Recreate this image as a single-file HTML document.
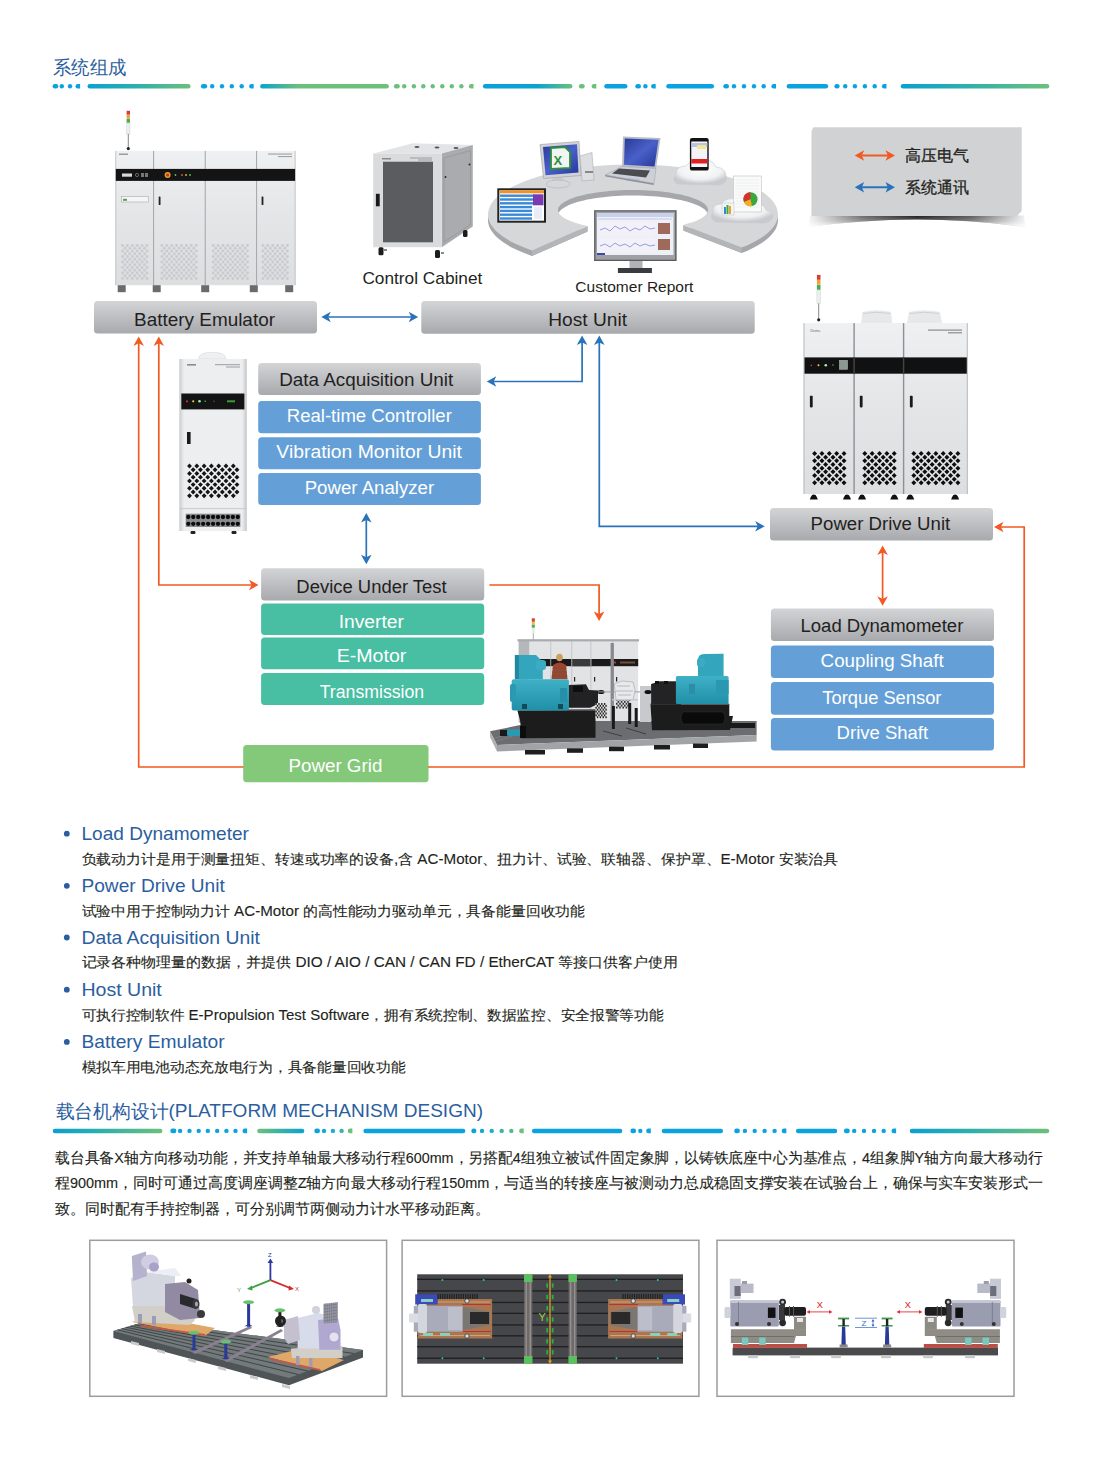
<!DOCTYPE html>
<html><head><meta charset="utf-8"><style>
html,body{margin:0;padding:0;background:#fff;width:1102px;height:1470px;overflow:hidden}
svg{display:block;font-family:"Liberation Sans",sans-serif}
</style></head><body>
<svg width="1102" height="1470" viewBox="0 0 1102 1470">
<defs><linearGradient id="gbox" x1="0" y1="0" x2="0" y2="1"><stop offset="0" stop-color="#d3d4d6"/><stop offset="1" stop-color="#a8a9ad"/></linearGradient><linearGradient id="l1_1" gradientUnits="userSpaceOnUse" x1="87.6" y1="0" x2="190.6" y2="0"><stop offset="0.00" stop-color="#0aa3d0"/><stop offset="0.45" stop-color="#2aaeb0"/><stop offset="1.00" stop-color="#6cc07b"/></linearGradient><linearGradient id="l1_2" gradientUnits="userSpaceOnUse" x1="260.1" y1="0" x2="388.8" y2="0"><stop offset="0.00" stop-color="#0aa3d0"/><stop offset="0.30" stop-color="#6cc07b"/><stop offset="1.00" stop-color="#6cc07b"/></linearGradient><linearGradient id="l1_3" gradientUnits="userSpaceOnUse" x1="483.0" y1="0" x2="572.5" y2="0"><stop offset="0.00" stop-color="#0aa0da"/><stop offset="0.60" stop-color="#0aa3d0"/><stop offset="1.00" stop-color="#6cc07b"/></linearGradient><linearGradient id="l1_4" gradientUnits="userSpaceOnUse" x1="900.7" y1="0" x2="1049.3" y2="0"><stop offset="0.00" stop-color="#0aa0d0"/><stop offset="0.40" stop-color="#2aaeb0"/><stop offset="1.00" stop-color="#6cc07b"/></linearGradient><radialGradient id="lshadow" cx="0.5" cy="0" r="0.6" fx="0.5" fy="0"><stop offset="0" stop-color="#444" stop-opacity="0.9"/><stop offset="1" stop-color="#888" stop-opacity="0"/></radialGradient><filter id="blur2" x="-20%" y="-50%" width="140%" height="200%"><feGaussianBlur stdDeviation="2.5"/></filter><linearGradient id="shh" x1="0" y1="0" x2="1" y2="0"><stop offset="0" stop-color="#f4f4f4"/><stop offset="0.25" stop-color="#6a6a6a"/><stop offset="0.5" stop-color="#1e1e1e"/><stop offset="0.75" stop-color="#5a5a5a"/><stop offset="1" stop-color="#f0f0f0"/></linearGradient><linearGradient id="shv" x1="0" y1="0" x2="0" y2="1"><stop offset="0" stop-color="#fff" stop-opacity="0"/><stop offset="0.5" stop-color="#fff" stop-opacity="0.25"/><stop offset="1" stop-color="#fff" stop-opacity="0.9"/></linearGradient><filter id="blur1" x="-5%" y="-50%" width="110%" height="200%"><feGaussianBlur stdDeviation="0.7"/></filter><linearGradient id="l2_10" gradientUnits="userSpaceOnUse" x1="52.7" y1="0" x2="162.5" y2="0"><stop offset="0.00" stop-color="#0aa0d0"/><stop offset="0.40" stop-color="#2aaeb0"/><stop offset="1.00" stop-color="#6cc07b"/></linearGradient><linearGradient id="l2_11" gradientUnits="userSpaceOnUse" x1="257.1" y1="0" x2="304.4" y2="0"><stop offset="0.00" stop-color="#6cc07b"/><stop offset="0.50" stop-color="#3ab0a8"/><stop offset="1.00" stop-color="#0aa3d0"/></linearGradient><linearGradient id="l2_12" gradientUnits="userSpaceOnUse" x1="909.8" y1="0" x2="1049.3" y2="0"><stop offset="0.00" stop-color="#0aa0d0"/><stop offset="0.40" stop-color="#2aaeb0"/><stop offset="1.00" stop-color="#6cc07b"/></linearGradient></defs>
<text x="53" y="74" font-size="18.5" fill="#2b5e9e" textLength="73.5" lengthAdjust="spacingAndGlyphs">系统组成</text>
<line x1="54.9" y1="86.3" x2="56.0" y2="86.3" stroke="#0aa3df" stroke-width="4.6" stroke-linecap="round"/><circle cx="61.8" cy="86.3" r="2.2" fill="#0aa3df"/><circle cx="70.0" cy="86.3" r="2.2" fill="#0aa3df"/><path d="M77.8 84.0 A2.3 2.3 0 0 0 77.8 88.6 L80.1 88.6 L80.1 84.0 Z" fill="#0aa3df"/><line x1="89.8" y1="86.3" x2="188.3" y2="86.3" stroke="url(#l1_1)" stroke-width="4.5" stroke-linecap="round"/><line x1="203.2" y1="86.3" x2="204.9" y2="86.3" stroke="#0aa3df" stroke-width="4.6" stroke-linecap="round"/><circle cx="212.2" cy="86.3" r="2.2" fill="#0aa3df"/><circle cx="222.0" cy="86.3" r="2.2" fill="#0aa3df"/><circle cx="231.8" cy="86.3" r="2.2" fill="#0aa3df"/><circle cx="241.7" cy="86.3" r="2.2" fill="#0aa3df"/><path d="M251.4 84.0 A2.3 2.3 0 0 0 251.4 88.6 L253.7 88.6 L253.7 84.0 Z" fill="#0aa3df"/><line x1="262.4" y1="86.3" x2="386.6" y2="86.3" stroke="url(#l1_2)" stroke-width="4.5" stroke-linecap="round"/><line x1="396.2" y1="86.3" x2="397.5" y2="86.3" stroke="#6cc07b" stroke-width="4.6" stroke-linecap="round"/><circle cx="404.2" cy="86.3" r="2.2" fill="#6cc07b"/><circle cx="413.9" cy="86.3" r="2.2" fill="#6cc07b"/><circle cx="423.3" cy="86.3" r="2.2" fill="#6cc07b"/><circle cx="432.7" cy="86.3" r="2.2" fill="#6cc07b"/><circle cx="442.3" cy="86.3" r="2.2" fill="#6cc07b"/><circle cx="451.8" cy="86.3" r="2.2" fill="#6cc07b"/><circle cx="461.4" cy="86.3" r="2.2" fill="#6cc07b"/><path d="M471.2 84.0 A2.3 2.3 0 0 0 471.2 88.6 L473.5 88.6 L473.5 84.0 Z" fill="#6cc07b"/><line x1="485.2" y1="86.3" x2="570.2" y2="86.3" stroke="url(#l1_3)" stroke-width="4.5" stroke-linecap="round"/><line x1="581.2" y1="86.3" x2="582.4" y2="86.3" stroke="#6cc07b" stroke-width="4.6" stroke-linecap="round"/><path d="M594.0 84.0 A2.3 2.3 0 0 0 594.0 88.6 L596.3 88.6 L596.3 84.0 Z" fill="#6cc07b"/><line x1="606.5" y1="86.3" x2="625.2" y2="86.3" stroke="#0aa3df" stroke-width="4.5" stroke-linecap="round"/><line x1="637.6" y1="86.3" x2="638.7" y2="86.3" stroke="#0aa3df" stroke-width="4.6" stroke-linecap="round"/><circle cx="645.4" cy="86.3" r="2.2" fill="#0aa3df"/><path d="M653.4 84.0 A2.3 2.3 0 0 0 653.4 88.6 L655.7 88.6 L655.7 84.0 Z" fill="#0aa3df"/><line x1="668.5" y1="86.3" x2="711.8" y2="86.3" stroke="#0aa3df" stroke-width="4.5" stroke-linecap="round"/><line x1="725.6" y1="86.3" x2="726.7" y2="86.3" stroke="#0aa3df" stroke-width="4.6" stroke-linecap="round"/><circle cx="734.0" cy="86.3" r="2.2" fill="#0aa3df"/><circle cx="744.0" cy="86.3" r="2.2" fill="#0aa3df"/><circle cx="754.0" cy="86.3" r="2.2" fill="#0aa3df"/><circle cx="763.7" cy="86.3" r="2.2" fill="#0aa3df"/><path d="M773.7 84.0 A2.3 2.3 0 0 0 773.7 88.6 L776.0 88.6 L776.0 84.0 Z" fill="#0aa3df"/><line x1="788.9" y1="86.3" x2="825.9" y2="86.3" stroke="#0aa3df" stroke-width="4.5" stroke-linecap="round"/><line x1="836.7" y1="86.3" x2="837.3" y2="86.3" stroke="#0aa3df" stroke-width="4.6" stroke-linecap="round"/><circle cx="845.2" cy="86.3" r="2.2" fill="#0aa3df"/><circle cx="854.9" cy="86.3" r="2.2" fill="#0aa3df"/><circle cx="864.9" cy="86.3" r="2.2" fill="#0aa3df"/><circle cx="874.7" cy="86.3" r="2.2" fill="#0aa3df"/><path d="M884.2 84.0 A2.3 2.3 0 0 0 884.2 88.6 L886.5 88.6 L886.5 84.0 Z" fill="#0aa3df"/><line x1="903.0" y1="86.3" x2="1047.0" y2="86.3" stroke="url(#l1_4)" stroke-width="4.5" stroke-linecap="round"/>
<path d="M810 215.5 L1024 215.5 L1025 227 Q916 212 809 227 Z" fill="url(#shh)" filter="url(#blur1)"/>
<path d="M810 215.5 L1024 215.5 L1025 227 Q916 212 809 227 Z" fill="url(#shv)"/>
<path d="M813.5 127.3 L1021.7 127.3 L1021.7 211 L1017 216 L811.5 216 L811.5 131 Z" fill="#d1d2d4"/>
<text x="905" y="161.2" font-size="16" fill="#231f20" stroke="#231f20" stroke-width="0.3" textLength="64" lengthAdjust="spacingAndGlyphs">高压电气</text>
<text x="905" y="192.8" font-size="16" fill="#231f20" stroke="#231f20" stroke-width="0.3" textLength="64" lengthAdjust="spacingAndGlyphs">系统通讯</text>
<defs>
<linearGradient id="cabG" x1="0" y1="0" x2="0" y2="1"><stop offset="0" stop-color="#eef0f1"/><stop offset="0.5" stop-color="#e3e5e7"/><stop offset="1" stop-color="#dcdee0"/></linearGradient>
<linearGradient id="cabG2" x1="0" y1="0" x2="1" y2="0"><stop offset="0" stop-color="#c9cbcd"/><stop offset="0.07" stop-color="#eceef0"/><stop offset="0.93" stop-color="#eceef0"/><stop offset="1" stop-color="#c4c6c8"/></linearGradient>
<linearGradient id="ringTop" x1="0" y1="0" x2="0" y2="1"><stop offset="0" stop-color="#dcdddf"/><stop offset="1" stop-color="#cfd0d2"/></linearGradient>
<linearGradient id="scrBlue" x1="0" y1="0" x2="1" y2="1"><stop offset="0" stop-color="#2a3c9a"/><stop offset="0.5" stop-color="#4a60c8"/><stop offset="1" stop-color="#26369a"/></linearGradient>
<radialGradient id="cloudG" cx="0.5" cy="0.35" r="0.6"><stop offset="0" stop-color="#ffffff"/><stop offset="0.7" stop-color="#f0f1f3"/><stop offset="1" stop-color="#c8cacd"/></radialGradient>
<linearGradient id="teal" x1="0" y1="0" x2="0" y2="1"><stop offset="0" stop-color="#3fb0c6"/><stop offset="1" stop-color="#2090a8"/></linearGradient>
</defs><rect x="126.6" y="110.8" width="3.4" height="3.9" fill="#d63c3c"/><rect x="126.6" y="115.0" width="3.4" height="3.7" fill="#e8a63a"/><rect x="126.6" y="118.9" width="3.4" height="3.9" fill="#4caa55"/><rect x="126.6" y="123.1" width="3.4" height="10.9" fill="#eceef0" stroke="#cfd1d4" stroke-width="0.5"/><line x1="128.3" y1="134.0" x2="128.3" y2="148.6" stroke="#555" stroke-width="0.7"/><circle cx="128.3" cy="148.6" r="1.6" fill="#222"/><rect x="115.3" y="150.9" width="180.3" height="134.3" fill="url(#cabG)"/><rect x="115.3" y="150.9" width="1" height="134.3" fill="#c4c6c8"/><rect x="294.6" y="150.9" width="1" height="134.3" fill="#c4c6c8"/><rect x="153.0" y="150.9" width="1.1" height="134.3" fill="#a9abae"/><rect x="204.7" y="150.9" width="1.1" height="134.3" fill="#a9abae"/><rect x="256.0" y="150.9" width="1.1" height="134.3" fill="#a9abae"/><rect x="115.8" y="168.9" width="179.3" height="12" fill="#141414"/><rect x="122" y="173.5" width="10" height="3.2" fill="#d8d8d8"/><circle cx="137" cy="175" r="1.6" fill="none" stroke="#999" stroke-width="0.6"/><rect x="141" y="173" width="3" height="4" fill="#777"/><rect x="145" y="173" width="3" height="4" fill="#777"/><circle cx="167.6" cy="175" r="3" fill="#e8a020"/><circle cx="167.6" cy="175" r="1.6" fill="#c8302a"/><circle cx="175.5" cy="175" r="0.9" fill="#5ac85a"/><circle cx="182" cy="175" r="0.9" fill="#e85a3a"/><circle cx="186" cy="175" r="0.9" fill="#e8c03a"/><circle cx="190" cy="175" r="0.9" fill="#5ac85a"/><rect x="121.3" y="196.5" width="27.3" height="5.5" fill="#f4f5f6" stroke="#9a9c9e" stroke-width="0.5"/><rect x="123" y="198.8" width="4" height="2" fill="#5a9a5a"/><rect x="158.7" y="196.5" width="1.8" height="8.5" rx="0.6" fill="#222"/><rect x="261.6" y="196.5" width="1.8" height="8.5" rx="0.6" fill="#222"/><g fill="#c9cbce"><circle cx="122.50" cy="245.50" r="1.45"/><circle cx="127.40" cy="245.50" r="1.45"/><circle cx="132.30" cy="245.50" r="1.45"/><circle cx="137.20" cy="245.50" r="1.45"/><circle cx="142.10" cy="245.50" r="1.45"/><circle cx="147.00" cy="245.50" r="1.45"/><circle cx="124.95" cy="248.25" r="1.45"/><circle cx="129.85" cy="248.25" r="1.45"/><circle cx="134.75" cy="248.25" r="1.45"/><circle cx="139.65" cy="248.25" r="1.45"/><circle cx="144.55" cy="248.25" r="1.45"/><circle cx="122.50" cy="251.00" r="1.45"/><circle cx="127.40" cy="251.00" r="1.45"/><circle cx="132.30" cy="251.00" r="1.45"/><circle cx="137.20" cy="251.00" r="1.45"/><circle cx="142.10" cy="251.00" r="1.45"/><circle cx="147.00" cy="251.00" r="1.45"/><circle cx="124.95" cy="253.75" r="1.45"/><circle cx="129.85" cy="253.75" r="1.45"/><circle cx="134.75" cy="253.75" r="1.45"/><circle cx="139.65" cy="253.75" r="1.45"/><circle cx="144.55" cy="253.75" r="1.45"/><circle cx="122.50" cy="256.50" r="1.45"/><circle cx="127.40" cy="256.50" r="1.45"/><circle cx="132.30" cy="256.50" r="1.45"/><circle cx="137.20" cy="256.50" r="1.45"/><circle cx="142.10" cy="256.50" r="1.45"/><circle cx="147.00" cy="256.50" r="1.45"/><circle cx="124.95" cy="259.25" r="1.45"/><circle cx="129.85" cy="259.25" r="1.45"/><circle cx="134.75" cy="259.25" r="1.45"/><circle cx="139.65" cy="259.25" r="1.45"/><circle cx="144.55" cy="259.25" r="1.45"/><circle cx="122.50" cy="262.00" r="1.45"/><circle cx="127.40" cy="262.00" r="1.45"/><circle cx="132.30" cy="262.00" r="1.45"/><circle cx="137.20" cy="262.00" r="1.45"/><circle cx="142.10" cy="262.00" r="1.45"/><circle cx="147.00" cy="262.00" r="1.45"/><circle cx="124.95" cy="264.75" r="1.45"/><circle cx="129.85" cy="264.75" r="1.45"/><circle cx="134.75" cy="264.75" r="1.45"/><circle cx="139.65" cy="264.75" r="1.45"/><circle cx="144.55" cy="264.75" r="1.45"/><circle cx="122.50" cy="267.50" r="1.45"/><circle cx="127.40" cy="267.50" r="1.45"/><circle cx="132.30" cy="267.50" r="1.45"/><circle cx="137.20" cy="267.50" r="1.45"/><circle cx="142.10" cy="267.50" r="1.45"/><circle cx="147.00" cy="267.50" r="1.45"/><circle cx="124.95" cy="270.25" r="1.45"/><circle cx="129.85" cy="270.25" r="1.45"/><circle cx="134.75" cy="270.25" r="1.45"/><circle cx="139.65" cy="270.25" r="1.45"/><circle cx="144.55" cy="270.25" r="1.45"/><circle cx="122.50" cy="273.00" r="1.45"/><circle cx="127.40" cy="273.00" r="1.45"/><circle cx="132.30" cy="273.00" r="1.45"/><circle cx="137.20" cy="273.00" r="1.45"/><circle cx="142.10" cy="273.00" r="1.45"/><circle cx="147.00" cy="273.00" r="1.45"/><circle cx="124.95" cy="275.75" r="1.45"/><circle cx="129.85" cy="275.75" r="1.45"/><circle cx="134.75" cy="275.75" r="1.45"/><circle cx="139.65" cy="275.75" r="1.45"/><circle cx="144.55" cy="275.75" r="1.45"/><circle cx="122.50" cy="278.50" r="1.45"/><circle cx="127.40" cy="278.50" r="1.45"/><circle cx="132.30" cy="278.50" r="1.45"/><circle cx="137.20" cy="278.50" r="1.45"/><circle cx="142.10" cy="278.50" r="1.45"/><circle cx="147.00" cy="278.50" r="1.45"/></g><g fill="#c9cbce"><circle cx="161.90" cy="245.50" r="1.45"/><circle cx="166.80" cy="245.50" r="1.45"/><circle cx="171.70" cy="245.50" r="1.45"/><circle cx="176.60" cy="245.50" r="1.45"/><circle cx="181.50" cy="245.50" r="1.45"/><circle cx="186.40" cy="245.50" r="1.45"/><circle cx="191.30" cy="245.50" r="1.45"/><circle cx="196.20" cy="245.50" r="1.45"/><circle cx="164.35" cy="248.25" r="1.45"/><circle cx="169.25" cy="248.25" r="1.45"/><circle cx="174.15" cy="248.25" r="1.45"/><circle cx="179.05" cy="248.25" r="1.45"/><circle cx="183.95" cy="248.25" r="1.45"/><circle cx="188.85" cy="248.25" r="1.45"/><circle cx="193.75" cy="248.25" r="1.45"/><circle cx="161.90" cy="251.00" r="1.45"/><circle cx="166.80" cy="251.00" r="1.45"/><circle cx="171.70" cy="251.00" r="1.45"/><circle cx="176.60" cy="251.00" r="1.45"/><circle cx="181.50" cy="251.00" r="1.45"/><circle cx="186.40" cy="251.00" r="1.45"/><circle cx="191.30" cy="251.00" r="1.45"/><circle cx="196.20" cy="251.00" r="1.45"/><circle cx="164.35" cy="253.75" r="1.45"/><circle cx="169.25" cy="253.75" r="1.45"/><circle cx="174.15" cy="253.75" r="1.45"/><circle cx="179.05" cy="253.75" r="1.45"/><circle cx="183.95" cy="253.75" r="1.45"/><circle cx="188.85" cy="253.75" r="1.45"/><circle cx="193.75" cy="253.75" r="1.45"/><circle cx="161.90" cy="256.50" r="1.45"/><circle cx="166.80" cy="256.50" r="1.45"/><circle cx="171.70" cy="256.50" r="1.45"/><circle cx="176.60" cy="256.50" r="1.45"/><circle cx="181.50" cy="256.50" r="1.45"/><circle cx="186.40" cy="256.50" r="1.45"/><circle cx="191.30" cy="256.50" r="1.45"/><circle cx="196.20" cy="256.50" r="1.45"/><circle cx="164.35" cy="259.25" r="1.45"/><circle cx="169.25" cy="259.25" r="1.45"/><circle cx="174.15" cy="259.25" r="1.45"/><circle cx="179.05" cy="259.25" r="1.45"/><circle cx="183.95" cy="259.25" r="1.45"/><circle cx="188.85" cy="259.25" r="1.45"/><circle cx="193.75" cy="259.25" r="1.45"/><circle cx="161.90" cy="262.00" r="1.45"/><circle cx="166.80" cy="262.00" r="1.45"/><circle cx="171.70" cy="262.00" r="1.45"/><circle cx="176.60" cy="262.00" r="1.45"/><circle cx="181.50" cy="262.00" r="1.45"/><circle cx="186.40" cy="262.00" r="1.45"/><circle cx="191.30" cy="262.00" r="1.45"/><circle cx="196.20" cy="262.00" r="1.45"/><circle cx="164.35" cy="264.75" r="1.45"/><circle cx="169.25" cy="264.75" r="1.45"/><circle cx="174.15" cy="264.75" r="1.45"/><circle cx="179.05" cy="264.75" r="1.45"/><circle cx="183.95" cy="264.75" r="1.45"/><circle cx="188.85" cy="264.75" r="1.45"/><circle cx="193.75" cy="264.75" r="1.45"/><circle cx="161.90" cy="267.50" r="1.45"/><circle cx="166.80" cy="267.50" r="1.45"/><circle cx="171.70" cy="267.50" r="1.45"/><circle cx="176.60" cy="267.50" r="1.45"/><circle cx="181.50" cy="267.50" r="1.45"/><circle cx="186.40" cy="267.50" r="1.45"/><circle cx="191.30" cy="267.50" r="1.45"/><circle cx="196.20" cy="267.50" r="1.45"/><circle cx="164.35" cy="270.25" r="1.45"/><circle cx="169.25" cy="270.25" r="1.45"/><circle cx="174.15" cy="270.25" r="1.45"/><circle cx="179.05" cy="270.25" r="1.45"/><circle cx="183.95" cy="270.25" r="1.45"/><circle cx="188.85" cy="270.25" r="1.45"/><circle cx="193.75" cy="270.25" r="1.45"/><circle cx="161.90" cy="273.00" r="1.45"/><circle cx="166.80" cy="273.00" r="1.45"/><circle cx="171.70" cy="273.00" r="1.45"/><circle cx="176.60" cy="273.00" r="1.45"/><circle cx="181.50" cy="273.00" r="1.45"/><circle cx="186.40" cy="273.00" r="1.45"/><circle cx="191.30" cy="273.00" r="1.45"/><circle cx="196.20" cy="273.00" r="1.45"/><circle cx="164.35" cy="275.75" r="1.45"/><circle cx="169.25" cy="275.75" r="1.45"/><circle cx="174.15" cy="275.75" r="1.45"/><circle cx="179.05" cy="275.75" r="1.45"/><circle cx="183.95" cy="275.75" r="1.45"/><circle cx="188.85" cy="275.75" r="1.45"/><circle cx="193.75" cy="275.75" r="1.45"/><circle cx="161.90" cy="278.50" r="1.45"/><circle cx="166.80" cy="278.50" r="1.45"/><circle cx="171.70" cy="278.50" r="1.45"/><circle cx="176.60" cy="278.50" r="1.45"/><circle cx="181.50" cy="278.50" r="1.45"/><circle cx="186.40" cy="278.50" r="1.45"/><circle cx="191.30" cy="278.50" r="1.45"/><circle cx="196.20" cy="278.50" r="1.45"/></g><g fill="#c9cbce"><circle cx="213.20" cy="245.50" r="1.45"/><circle cx="218.10" cy="245.50" r="1.45"/><circle cx="223.00" cy="245.50" r="1.45"/><circle cx="227.90" cy="245.50" r="1.45"/><circle cx="232.80" cy="245.50" r="1.45"/><circle cx="237.70" cy="245.50" r="1.45"/><circle cx="242.60" cy="245.50" r="1.45"/><circle cx="247.50" cy="245.50" r="1.45"/><circle cx="215.65" cy="248.25" r="1.45"/><circle cx="220.55" cy="248.25" r="1.45"/><circle cx="225.45" cy="248.25" r="1.45"/><circle cx="230.35" cy="248.25" r="1.45"/><circle cx="235.25" cy="248.25" r="1.45"/><circle cx="240.15" cy="248.25" r="1.45"/><circle cx="245.05" cy="248.25" r="1.45"/><circle cx="213.20" cy="251.00" r="1.45"/><circle cx="218.10" cy="251.00" r="1.45"/><circle cx="223.00" cy="251.00" r="1.45"/><circle cx="227.90" cy="251.00" r="1.45"/><circle cx="232.80" cy="251.00" r="1.45"/><circle cx="237.70" cy="251.00" r="1.45"/><circle cx="242.60" cy="251.00" r="1.45"/><circle cx="247.50" cy="251.00" r="1.45"/><circle cx="215.65" cy="253.75" r="1.45"/><circle cx="220.55" cy="253.75" r="1.45"/><circle cx="225.45" cy="253.75" r="1.45"/><circle cx="230.35" cy="253.75" r="1.45"/><circle cx="235.25" cy="253.75" r="1.45"/><circle cx="240.15" cy="253.75" r="1.45"/><circle cx="245.05" cy="253.75" r="1.45"/><circle cx="213.20" cy="256.50" r="1.45"/><circle cx="218.10" cy="256.50" r="1.45"/><circle cx="223.00" cy="256.50" r="1.45"/><circle cx="227.90" cy="256.50" r="1.45"/><circle cx="232.80" cy="256.50" r="1.45"/><circle cx="237.70" cy="256.50" r="1.45"/><circle cx="242.60" cy="256.50" r="1.45"/><circle cx="247.50" cy="256.50" r="1.45"/><circle cx="215.65" cy="259.25" r="1.45"/><circle cx="220.55" cy="259.25" r="1.45"/><circle cx="225.45" cy="259.25" r="1.45"/><circle cx="230.35" cy="259.25" r="1.45"/><circle cx="235.25" cy="259.25" r="1.45"/><circle cx="240.15" cy="259.25" r="1.45"/><circle cx="245.05" cy="259.25" r="1.45"/><circle cx="213.20" cy="262.00" r="1.45"/><circle cx="218.10" cy="262.00" r="1.45"/><circle cx="223.00" cy="262.00" r="1.45"/><circle cx="227.90" cy="262.00" r="1.45"/><circle cx="232.80" cy="262.00" r="1.45"/><circle cx="237.70" cy="262.00" r="1.45"/><circle cx="242.60" cy="262.00" r="1.45"/><circle cx="247.50" cy="262.00" r="1.45"/><circle cx="215.65" cy="264.75" r="1.45"/><circle cx="220.55" cy="264.75" r="1.45"/><circle cx="225.45" cy="264.75" r="1.45"/><circle cx="230.35" cy="264.75" r="1.45"/><circle cx="235.25" cy="264.75" r="1.45"/><circle cx="240.15" cy="264.75" r="1.45"/><circle cx="245.05" cy="264.75" r="1.45"/><circle cx="213.20" cy="267.50" r="1.45"/><circle cx="218.10" cy="267.50" r="1.45"/><circle cx="223.00" cy="267.50" r="1.45"/><circle cx="227.90" cy="267.50" r="1.45"/><circle cx="232.80" cy="267.50" r="1.45"/><circle cx="237.70" cy="267.50" r="1.45"/><circle cx="242.60" cy="267.50" r="1.45"/><circle cx="247.50" cy="267.50" r="1.45"/><circle cx="215.65" cy="270.25" r="1.45"/><circle cx="220.55" cy="270.25" r="1.45"/><circle cx="225.45" cy="270.25" r="1.45"/><circle cx="230.35" cy="270.25" r="1.45"/><circle cx="235.25" cy="270.25" r="1.45"/><circle cx="240.15" cy="270.25" r="1.45"/><circle cx="245.05" cy="270.25" r="1.45"/><circle cx="213.20" cy="273.00" r="1.45"/><circle cx="218.10" cy="273.00" r="1.45"/><circle cx="223.00" cy="273.00" r="1.45"/><circle cx="227.90" cy="273.00" r="1.45"/><circle cx="232.80" cy="273.00" r="1.45"/><circle cx="237.70" cy="273.00" r="1.45"/><circle cx="242.60" cy="273.00" r="1.45"/><circle cx="247.50" cy="273.00" r="1.45"/><circle cx="215.65" cy="275.75" r="1.45"/><circle cx="220.55" cy="275.75" r="1.45"/><circle cx="225.45" cy="275.75" r="1.45"/><circle cx="230.35" cy="275.75" r="1.45"/><circle cx="235.25" cy="275.75" r="1.45"/><circle cx="240.15" cy="275.75" r="1.45"/><circle cx="245.05" cy="275.75" r="1.45"/><circle cx="213.20" cy="278.50" r="1.45"/><circle cx="218.10" cy="278.50" r="1.45"/><circle cx="223.00" cy="278.50" r="1.45"/><circle cx="227.90" cy="278.50" r="1.45"/><circle cx="232.80" cy="278.50" r="1.45"/><circle cx="237.70" cy="278.50" r="1.45"/><circle cx="242.60" cy="278.50" r="1.45"/><circle cx="247.50" cy="278.50" r="1.45"/></g><g fill="#c9cbce"><circle cx="262.90" cy="245.50" r="1.45"/><circle cx="267.80" cy="245.50" r="1.45"/><circle cx="272.70" cy="245.50" r="1.45"/><circle cx="277.60" cy="245.50" r="1.45"/><circle cx="282.50" cy="245.50" r="1.45"/><circle cx="287.40" cy="245.50" r="1.45"/><circle cx="265.35" cy="248.25" r="1.45"/><circle cx="270.25" cy="248.25" r="1.45"/><circle cx="275.15" cy="248.25" r="1.45"/><circle cx="280.05" cy="248.25" r="1.45"/><circle cx="284.95" cy="248.25" r="1.45"/><circle cx="262.90" cy="251.00" r="1.45"/><circle cx="267.80" cy="251.00" r="1.45"/><circle cx="272.70" cy="251.00" r="1.45"/><circle cx="277.60" cy="251.00" r="1.45"/><circle cx="282.50" cy="251.00" r="1.45"/><circle cx="287.40" cy="251.00" r="1.45"/><circle cx="265.35" cy="253.75" r="1.45"/><circle cx="270.25" cy="253.75" r="1.45"/><circle cx="275.15" cy="253.75" r="1.45"/><circle cx="280.05" cy="253.75" r="1.45"/><circle cx="284.95" cy="253.75" r="1.45"/><circle cx="262.90" cy="256.50" r="1.45"/><circle cx="267.80" cy="256.50" r="1.45"/><circle cx="272.70" cy="256.50" r="1.45"/><circle cx="277.60" cy="256.50" r="1.45"/><circle cx="282.50" cy="256.50" r="1.45"/><circle cx="287.40" cy="256.50" r="1.45"/><circle cx="265.35" cy="259.25" r="1.45"/><circle cx="270.25" cy="259.25" r="1.45"/><circle cx="275.15" cy="259.25" r="1.45"/><circle cx="280.05" cy="259.25" r="1.45"/><circle cx="284.95" cy="259.25" r="1.45"/><circle cx="262.90" cy="262.00" r="1.45"/><circle cx="267.80" cy="262.00" r="1.45"/><circle cx="272.70" cy="262.00" r="1.45"/><circle cx="277.60" cy="262.00" r="1.45"/><circle cx="282.50" cy="262.00" r="1.45"/><circle cx="287.40" cy="262.00" r="1.45"/><circle cx="265.35" cy="264.75" r="1.45"/><circle cx="270.25" cy="264.75" r="1.45"/><circle cx="275.15" cy="264.75" r="1.45"/><circle cx="280.05" cy="264.75" r="1.45"/><circle cx="284.95" cy="264.75" r="1.45"/><circle cx="262.90" cy="267.50" r="1.45"/><circle cx="267.80" cy="267.50" r="1.45"/><circle cx="272.70" cy="267.50" r="1.45"/><circle cx="277.60" cy="267.50" r="1.45"/><circle cx="282.50" cy="267.50" r="1.45"/><circle cx="287.40" cy="267.50" r="1.45"/><circle cx="265.35" cy="270.25" r="1.45"/><circle cx="270.25" cy="270.25" r="1.45"/><circle cx="275.15" cy="270.25" r="1.45"/><circle cx="280.05" cy="270.25" r="1.45"/><circle cx="284.95" cy="270.25" r="1.45"/><circle cx="262.90" cy="273.00" r="1.45"/><circle cx="267.80" cy="273.00" r="1.45"/><circle cx="272.70" cy="273.00" r="1.45"/><circle cx="277.60" cy="273.00" r="1.45"/><circle cx="282.50" cy="273.00" r="1.45"/><circle cx="287.40" cy="273.00" r="1.45"/><circle cx="265.35" cy="275.75" r="1.45"/><circle cx="270.25" cy="275.75" r="1.45"/><circle cx="275.15" cy="275.75" r="1.45"/><circle cx="280.05" cy="275.75" r="1.45"/><circle cx="284.95" cy="275.75" r="1.45"/><circle cx="262.90" cy="278.50" r="1.45"/><circle cx="267.80" cy="278.50" r="1.45"/><circle cx="272.70" cy="278.50" r="1.45"/><circle cx="277.60" cy="278.50" r="1.45"/><circle cx="282.50" cy="278.50" r="1.45"/><circle cx="287.40" cy="278.50" r="1.45"/></g><rect x="117.7" y="285.2" width="8" height="7" fill="#6a6b6d"/><rect x="152.7" y="285.2" width="8" height="7" fill="#6a6b6d"/><rect x="201.2" y="285.2" width="8" height="7" fill="#6a6b6d"/><rect x="249.8" y="285.2" width="8" height="7" fill="#6a6b6d"/><rect x="285.2" y="285.2" width="8" height="7" fill="#6a6b6d"/><path d="M373.2 153.5 L412.9 143.2 L472.8 145 L441.8 153.5 Z" fill="#e3e4e6"/><path d="M441.8 153.5 L472.8 145 L472.8 226.5 L441.8 247.2 Z" fill="#a9abae"/><path d="M444 158 L470.5 150.5 L470.5 224.5 L444 242 Z" fill="none" stroke="#96989b" stroke-width="0.8"/><rect x="373.2" y="153.5" width="68.6" height="93.7" fill="#dadbdd"/><rect x="383" y="161.7" width="50" height="80.6" fill="#5b5c5f"/><rect x="375.9" y="193.8" width="3.8" height="12.5" fill="#1a1a1a"/><circle cx="445.5" cy="177" r="0.9" fill="#222"/><circle cx="469.5" cy="164.5" r="0.9" fill="#222"/><rect x="378.5" y="247.2" width="5" height="8" rx="1.5" fill="#1c1c1c"/><rect x="435" y="250" width="5" height="8" rx="1.5" fill="#1c1c1c"/><rect x="463" y="230" width="4.5" height="7" rx="1.5" fill="#1c1c1c"/><rect x="384" y="249" width="3" height="2" fill="#888"/><rect x="441" y="252" width="3" height="2" fill="#888"/><path d="M198.6 359 Q198.6 352.3 212.2 352.3 Q225.8 352.3 225.8 359 Z" fill="#eef0f2" stroke="#d6d8da" stroke-width="0.6"/><rect x="179.3" y="359" width="67.5" height="172" fill="url(#cabG2)"/><rect x="181.3" y="393.5" width="63.1" height="15.9" fill="#141414"/><circle cx="187" cy="401.3" r="1.1" fill="#c83a2a"/><circle cx="193.2" cy="401.3" r="1.1" fill="#e0d040"/><circle cx="199.5" cy="401.3" r="1.3" fill="#9af09a"/><rect x="204.5" y="400.5" width="1.5" height="1.5" fill="#3a9a3a"/><rect x="227" y="400.3" width="8" height="2" fill="#3a9a3a"/><circle cx="214" cy="401.3" r="0.8" fill="#555"/><rect x="187" y="432" width="3.6" height="12" fill="#1a1a1a"/><path d="M189.50 463.55l2.45 2.45l-2.45 2.45l-2.45 -2.45zM196.80 463.55l2.45 2.45l-2.45 2.45l-2.45 -2.45zM204.10 463.55l2.45 2.45l-2.45 2.45l-2.45 -2.45zM211.40 463.55l2.45 2.45l-2.45 2.45l-2.45 -2.45zM218.70 463.55l2.45 2.45l-2.45 2.45l-2.45 -2.45zM226.00 463.55l2.45 2.45l-2.45 2.45l-2.45 -2.45zM233.30 463.55l2.45 2.45l-2.45 2.45l-2.45 -2.45zM193.15 467.27l2.45 2.45l-2.45 2.45l-2.45 -2.45zM200.45 467.27l2.45 2.45l-2.45 2.45l-2.45 -2.45zM207.75 467.27l2.45 2.45l-2.45 2.45l-2.45 -2.45zM215.05 467.27l2.45 2.45l-2.45 2.45l-2.45 -2.45zM222.35 467.27l2.45 2.45l-2.45 2.45l-2.45 -2.45zM229.65 467.27l2.45 2.45l-2.45 2.45l-2.45 -2.45zM236.95 467.27l2.45 2.45l-2.45 2.45l-2.45 -2.45zM189.50 470.99l2.45 2.45l-2.45 2.45l-2.45 -2.45zM196.80 470.99l2.45 2.45l-2.45 2.45l-2.45 -2.45zM204.10 470.99l2.45 2.45l-2.45 2.45l-2.45 -2.45zM211.40 470.99l2.45 2.45l-2.45 2.45l-2.45 -2.45zM218.70 470.99l2.45 2.45l-2.45 2.45l-2.45 -2.45zM226.00 470.99l2.45 2.45l-2.45 2.45l-2.45 -2.45zM233.30 470.99l2.45 2.45l-2.45 2.45l-2.45 -2.45zM193.15 474.71l2.45 2.45l-2.45 2.45l-2.45 -2.45zM200.45 474.71l2.45 2.45l-2.45 2.45l-2.45 -2.45zM207.75 474.71l2.45 2.45l-2.45 2.45l-2.45 -2.45zM215.05 474.71l2.45 2.45l-2.45 2.45l-2.45 -2.45zM222.35 474.71l2.45 2.45l-2.45 2.45l-2.45 -2.45zM229.65 474.71l2.45 2.45l-2.45 2.45l-2.45 -2.45zM236.95 474.71l2.45 2.45l-2.45 2.45l-2.45 -2.45zM189.50 478.43l2.45 2.45l-2.45 2.45l-2.45 -2.45zM196.80 478.43l2.45 2.45l-2.45 2.45l-2.45 -2.45zM204.10 478.43l2.45 2.45l-2.45 2.45l-2.45 -2.45zM211.40 478.43l2.45 2.45l-2.45 2.45l-2.45 -2.45zM218.70 478.43l2.45 2.45l-2.45 2.45l-2.45 -2.45zM226.00 478.43l2.45 2.45l-2.45 2.45l-2.45 -2.45zM233.30 478.43l2.45 2.45l-2.45 2.45l-2.45 -2.45zM193.15 482.15l2.45 2.45l-2.45 2.45l-2.45 -2.45zM200.45 482.15l2.45 2.45l-2.45 2.45l-2.45 -2.45zM207.75 482.15l2.45 2.45l-2.45 2.45l-2.45 -2.45zM215.05 482.15l2.45 2.45l-2.45 2.45l-2.45 -2.45zM222.35 482.15l2.45 2.45l-2.45 2.45l-2.45 -2.45zM229.65 482.15l2.45 2.45l-2.45 2.45l-2.45 -2.45zM236.95 482.15l2.45 2.45l-2.45 2.45l-2.45 -2.45zM189.50 485.87l2.45 2.45l-2.45 2.45l-2.45 -2.45zM196.80 485.87l2.45 2.45l-2.45 2.45l-2.45 -2.45zM204.10 485.87l2.45 2.45l-2.45 2.45l-2.45 -2.45zM211.40 485.87l2.45 2.45l-2.45 2.45l-2.45 -2.45zM218.70 485.87l2.45 2.45l-2.45 2.45l-2.45 -2.45zM226.00 485.87l2.45 2.45l-2.45 2.45l-2.45 -2.45zM233.30 485.87l2.45 2.45l-2.45 2.45l-2.45 -2.45zM193.15 489.59l2.45 2.45l-2.45 2.45l-2.45 -2.45zM200.45 489.59l2.45 2.45l-2.45 2.45l-2.45 -2.45zM207.75 489.59l2.45 2.45l-2.45 2.45l-2.45 -2.45zM215.05 489.59l2.45 2.45l-2.45 2.45l-2.45 -2.45zM222.35 489.59l2.45 2.45l-2.45 2.45l-2.45 -2.45zM229.65 489.59l2.45 2.45l-2.45 2.45l-2.45 -2.45zM236.95 489.59l2.45 2.45l-2.45 2.45l-2.45 -2.45zM189.50 493.31l2.45 2.45l-2.45 2.45l-2.45 -2.45zM196.80 493.31l2.45 2.45l-2.45 2.45l-2.45 -2.45zM204.10 493.31l2.45 2.45l-2.45 2.45l-2.45 -2.45zM211.40 493.31l2.45 2.45l-2.45 2.45l-2.45 -2.45zM218.70 493.31l2.45 2.45l-2.45 2.45l-2.45 -2.45zM226.00 493.31l2.45 2.45l-2.45 2.45l-2.45 -2.45zM233.30 493.31l2.45 2.45l-2.45 2.45l-2.45 -2.45z" fill="#151515"/><rect x="179.8" y="508.3" width="66.5" height="0.8" fill="#c0c2c4"/><rect x="185.7" y="513.7" width="54.7" height="13.3" fill="#8a8b8d"/><g fill="#0c0c0c"><circle cx="188.30" cy="517.00" r="2.15"/><circle cx="193.25" cy="517.00" r="2.15"/><circle cx="198.20" cy="517.00" r="2.15"/><circle cx="203.15" cy="517.00" r="2.15"/><circle cx="208.10" cy="517.00" r="2.15"/><circle cx="213.05" cy="517.00" r="2.15"/><circle cx="218.00" cy="517.00" r="2.15"/><circle cx="222.95" cy="517.00" r="2.15"/><circle cx="227.90" cy="517.00" r="2.15"/><circle cx="232.85" cy="517.00" r="2.15"/><circle cx="237.80" cy="517.00" r="2.15"/><circle cx="188.30" cy="523.80" r="2.15"/><circle cx="193.25" cy="523.80" r="2.15"/><circle cx="198.20" cy="523.80" r="2.15"/><circle cx="203.15" cy="523.80" r="2.15"/><circle cx="208.10" cy="523.80" r="2.15"/><circle cx="213.05" cy="523.80" r="2.15"/><circle cx="218.00" cy="523.80" r="2.15"/><circle cx="222.95" cy="523.80" r="2.15"/><circle cx="227.90" cy="523.80" r="2.15"/><circle cx="232.85" cy="523.80" r="2.15"/><circle cx="237.80" cy="523.80" r="2.15"/></g><rect x="190.5" y="531" width="5" height="3" rx="1.2" fill="#222"/><rect x="231.5" y="531" width="5" height="3" rx="1.2" fill="#222"/><rect x="816.9" y="274.9" width="3.6" height="4.9" fill="#d63c3c"/><rect x="816.9" y="280.0" width="3.6" height="4.6" fill="#e8a63a"/><rect x="816.9" y="284.9" width="3.6" height="4.9" fill="#4caa55"/><rect x="816.9" y="290.1" width="3.6" height="13.4" fill="#eceef0" stroke="#cfd1d4" stroke-width="0.5"/><line x1="818.7" y1="303.5" x2="818.7" y2="319.8" stroke="#555" stroke-width="0.7"/><circle cx="818.7" cy="319.8" r="1.6" fill="#222"/><path d="M861.2 323 L862.5 312 Q876.7 308.5 891 312 L892.2 323 Z" fill="#e6e8ea"/><path d="M906.9 323 L909 312 Q924.5 308.5 940 312 L942 323 Z" fill="#e6e8ea"/><path d="M863 313.5 Q876.7 311 890 313.5" fill="none" stroke="#c8cacc" stroke-width="0.8"/><path d="M909.5 313.5 Q924.5 311 939 313.5" fill="none" stroke="#c8cacc" stroke-width="0.8"/><rect x="803.5" y="323.1" width="164.3" height="170.9" fill="url(#cabG)"/><rect x="803.5" y="323.1" width="1" height="170.9" fill="#b9bbbd"/><rect x="966.8" y="323.1" width="1" height="170.9" fill="#b9bbbd"/><rect x="853.4" y="323.1" width="1.4" height="170.9" fill="#8e9093"/><rect x="902.9" y="323.1" width="1.4" height="170.9" fill="#8e9093"/><rect x="804.5" y="357.4" width="162.3" height="16.3" fill="#111"/><rect x="853.4" y="357.4" width="1.4" height="16.3" fill="#444"/><rect x="902.9" y="357.4" width="1.4" height="16.3" fill="#444"/><circle cx="811.3" cy="365.3" r="0.9" fill="#c03a2a"/><circle cx="818.5" cy="365.3" r="1" fill="#e0d040"/><circle cx="825.8" cy="365.3" r="1.3" fill="#aaf5aa"/><circle cx="833" cy="365" r="0.8" fill="#4ab04a"/><rect x="839.4" y="360.3" width="8.2" height="9" fill="#8a9a90" stroke="#bbb" stroke-width="0.5"/><text x="810" y="331.8" font-size="2.8" fill="#666">Chroma</text><rect x="809.9" y="395.8" width="2.8" height="11.6" rx="0.8" fill="#1a1a1a"/><rect x="859.8" y="395.8" width="2.8" height="11.6" rx="0.8" fill="#1a1a1a"/><rect x="909.9" y="395.8" width="2.8" height="11.6" rx="0.8" fill="#1a1a1a"/><path d="M814.60 451.00l2.50 2.50l-2.50 2.50l-2.50 -2.50zM821.95 451.00l2.50 2.50l-2.50 2.50l-2.50 -2.50zM829.30 451.00l2.50 2.50l-2.50 2.50l-2.50 -2.50zM836.65 451.00l2.50 2.50l-2.50 2.50l-2.50 -2.50zM844.00 451.00l2.50 2.50l-2.50 2.50l-2.50 -2.50zM818.27 454.67l2.50 2.50l-2.50 2.50l-2.50 -2.50zM825.62 454.67l2.50 2.50l-2.50 2.50l-2.50 -2.50zM832.98 454.67l2.50 2.50l-2.50 2.50l-2.50 -2.50zM840.33 454.67l2.50 2.50l-2.50 2.50l-2.50 -2.50zM814.60 458.34l2.50 2.50l-2.50 2.50l-2.50 -2.50zM821.95 458.34l2.50 2.50l-2.50 2.50l-2.50 -2.50zM829.30 458.34l2.50 2.50l-2.50 2.50l-2.50 -2.50zM836.65 458.34l2.50 2.50l-2.50 2.50l-2.50 -2.50zM844.00 458.34l2.50 2.50l-2.50 2.50l-2.50 -2.50zM818.27 462.01l2.50 2.50l-2.50 2.50l-2.50 -2.50zM825.62 462.01l2.50 2.50l-2.50 2.50l-2.50 -2.50zM832.98 462.01l2.50 2.50l-2.50 2.50l-2.50 -2.50zM840.33 462.01l2.50 2.50l-2.50 2.50l-2.50 -2.50zM814.60 465.68l2.50 2.50l-2.50 2.50l-2.50 -2.50zM821.95 465.68l2.50 2.50l-2.50 2.50l-2.50 -2.50zM829.30 465.68l2.50 2.50l-2.50 2.50l-2.50 -2.50zM836.65 465.68l2.50 2.50l-2.50 2.50l-2.50 -2.50zM844.00 465.68l2.50 2.50l-2.50 2.50l-2.50 -2.50zM818.27 469.35l2.50 2.50l-2.50 2.50l-2.50 -2.50zM825.62 469.35l2.50 2.50l-2.50 2.50l-2.50 -2.50zM832.98 469.35l2.50 2.50l-2.50 2.50l-2.50 -2.50zM840.33 469.35l2.50 2.50l-2.50 2.50l-2.50 -2.50zM814.60 473.02l2.50 2.50l-2.50 2.50l-2.50 -2.50zM821.95 473.02l2.50 2.50l-2.50 2.50l-2.50 -2.50zM829.30 473.02l2.50 2.50l-2.50 2.50l-2.50 -2.50zM836.65 473.02l2.50 2.50l-2.50 2.50l-2.50 -2.50zM844.00 473.02l2.50 2.50l-2.50 2.50l-2.50 -2.50zM818.27 476.69l2.50 2.50l-2.50 2.50l-2.50 -2.50zM825.62 476.69l2.50 2.50l-2.50 2.50l-2.50 -2.50zM832.98 476.69l2.50 2.50l-2.50 2.50l-2.50 -2.50zM840.33 476.69l2.50 2.50l-2.50 2.50l-2.50 -2.50zM814.60 480.36l2.50 2.50l-2.50 2.50l-2.50 -2.50zM821.95 480.36l2.50 2.50l-2.50 2.50l-2.50 -2.50zM829.30 480.36l2.50 2.50l-2.50 2.50l-2.50 -2.50zM836.65 480.36l2.50 2.50l-2.50 2.50l-2.50 -2.50zM844.00 480.36l2.50 2.50l-2.50 2.50l-2.50 -2.50z" fill="#0e0e0e"/><path d="M864.80 451.00l2.50 2.50l-2.50 2.50l-2.50 -2.50zM872.15 451.00l2.50 2.50l-2.50 2.50l-2.50 -2.50zM879.50 451.00l2.50 2.50l-2.50 2.50l-2.50 -2.50zM886.85 451.00l2.50 2.50l-2.50 2.50l-2.50 -2.50zM894.20 451.00l2.50 2.50l-2.50 2.50l-2.50 -2.50zM868.47 454.67l2.50 2.50l-2.50 2.50l-2.50 -2.50zM875.82 454.67l2.50 2.50l-2.50 2.50l-2.50 -2.50zM883.17 454.67l2.50 2.50l-2.50 2.50l-2.50 -2.50zM890.52 454.67l2.50 2.50l-2.50 2.50l-2.50 -2.50zM864.80 458.34l2.50 2.50l-2.50 2.50l-2.50 -2.50zM872.15 458.34l2.50 2.50l-2.50 2.50l-2.50 -2.50zM879.50 458.34l2.50 2.50l-2.50 2.50l-2.50 -2.50zM886.85 458.34l2.50 2.50l-2.50 2.50l-2.50 -2.50zM894.20 458.34l2.50 2.50l-2.50 2.50l-2.50 -2.50zM868.47 462.01l2.50 2.50l-2.50 2.50l-2.50 -2.50zM875.82 462.01l2.50 2.50l-2.50 2.50l-2.50 -2.50zM883.17 462.01l2.50 2.50l-2.50 2.50l-2.50 -2.50zM890.52 462.01l2.50 2.50l-2.50 2.50l-2.50 -2.50zM864.80 465.68l2.50 2.50l-2.50 2.50l-2.50 -2.50zM872.15 465.68l2.50 2.50l-2.50 2.50l-2.50 -2.50zM879.50 465.68l2.50 2.50l-2.50 2.50l-2.50 -2.50zM886.85 465.68l2.50 2.50l-2.50 2.50l-2.50 -2.50zM894.20 465.68l2.50 2.50l-2.50 2.50l-2.50 -2.50zM868.47 469.35l2.50 2.50l-2.50 2.50l-2.50 -2.50zM875.82 469.35l2.50 2.50l-2.50 2.50l-2.50 -2.50zM883.17 469.35l2.50 2.50l-2.50 2.50l-2.50 -2.50zM890.52 469.35l2.50 2.50l-2.50 2.50l-2.50 -2.50zM864.80 473.02l2.50 2.50l-2.50 2.50l-2.50 -2.50zM872.15 473.02l2.50 2.50l-2.50 2.50l-2.50 -2.50zM879.50 473.02l2.50 2.50l-2.50 2.50l-2.50 -2.50zM886.85 473.02l2.50 2.50l-2.50 2.50l-2.50 -2.50zM894.20 473.02l2.50 2.50l-2.50 2.50l-2.50 -2.50zM868.47 476.69l2.50 2.50l-2.50 2.50l-2.50 -2.50zM875.82 476.69l2.50 2.50l-2.50 2.50l-2.50 -2.50zM883.17 476.69l2.50 2.50l-2.50 2.50l-2.50 -2.50zM890.52 476.69l2.50 2.50l-2.50 2.50l-2.50 -2.50zM864.80 480.36l2.50 2.50l-2.50 2.50l-2.50 -2.50zM872.15 480.36l2.50 2.50l-2.50 2.50l-2.50 -2.50zM879.50 480.36l2.50 2.50l-2.50 2.50l-2.50 -2.50zM886.85 480.36l2.50 2.50l-2.50 2.50l-2.50 -2.50zM894.20 480.36l2.50 2.50l-2.50 2.50l-2.50 -2.50z" fill="#0e0e0e"/><path d="M913.80 451.00l2.50 2.50l-2.50 2.50l-2.50 -2.50zM921.15 451.00l2.50 2.50l-2.50 2.50l-2.50 -2.50zM928.50 451.00l2.50 2.50l-2.50 2.50l-2.50 -2.50zM935.85 451.00l2.50 2.50l-2.50 2.50l-2.50 -2.50zM943.20 451.00l2.50 2.50l-2.50 2.50l-2.50 -2.50zM950.55 451.00l2.50 2.50l-2.50 2.50l-2.50 -2.50zM957.90 451.00l2.50 2.50l-2.50 2.50l-2.50 -2.50zM917.47 454.67l2.50 2.50l-2.50 2.50l-2.50 -2.50zM924.82 454.67l2.50 2.50l-2.50 2.50l-2.50 -2.50zM932.17 454.67l2.50 2.50l-2.50 2.50l-2.50 -2.50zM939.52 454.67l2.50 2.50l-2.50 2.50l-2.50 -2.50zM946.88 454.67l2.50 2.50l-2.50 2.50l-2.50 -2.50zM954.23 454.67l2.50 2.50l-2.50 2.50l-2.50 -2.50zM913.80 458.34l2.50 2.50l-2.50 2.50l-2.50 -2.50zM921.15 458.34l2.50 2.50l-2.50 2.50l-2.50 -2.50zM928.50 458.34l2.50 2.50l-2.50 2.50l-2.50 -2.50zM935.85 458.34l2.50 2.50l-2.50 2.50l-2.50 -2.50zM943.20 458.34l2.50 2.50l-2.50 2.50l-2.50 -2.50zM950.55 458.34l2.50 2.50l-2.50 2.50l-2.50 -2.50zM957.90 458.34l2.50 2.50l-2.50 2.50l-2.50 -2.50zM917.47 462.01l2.50 2.50l-2.50 2.50l-2.50 -2.50zM924.82 462.01l2.50 2.50l-2.50 2.50l-2.50 -2.50zM932.17 462.01l2.50 2.50l-2.50 2.50l-2.50 -2.50zM939.52 462.01l2.50 2.50l-2.50 2.50l-2.50 -2.50zM946.88 462.01l2.50 2.50l-2.50 2.50l-2.50 -2.50zM954.23 462.01l2.50 2.50l-2.50 2.50l-2.50 -2.50zM913.80 465.68l2.50 2.50l-2.50 2.50l-2.50 -2.50zM921.15 465.68l2.50 2.50l-2.50 2.50l-2.50 -2.50zM928.50 465.68l2.50 2.50l-2.50 2.50l-2.50 -2.50zM935.85 465.68l2.50 2.50l-2.50 2.50l-2.50 -2.50zM943.20 465.68l2.50 2.50l-2.50 2.50l-2.50 -2.50zM950.55 465.68l2.50 2.50l-2.50 2.50l-2.50 -2.50zM957.90 465.68l2.50 2.50l-2.50 2.50l-2.50 -2.50zM917.47 469.35l2.50 2.50l-2.50 2.50l-2.50 -2.50zM924.82 469.35l2.50 2.50l-2.50 2.50l-2.50 -2.50zM932.17 469.35l2.50 2.50l-2.50 2.50l-2.50 -2.50zM939.52 469.35l2.50 2.50l-2.50 2.50l-2.50 -2.50zM946.88 469.35l2.50 2.50l-2.50 2.50l-2.50 -2.50zM954.23 469.35l2.50 2.50l-2.50 2.50l-2.50 -2.50zM913.80 473.02l2.50 2.50l-2.50 2.50l-2.50 -2.50zM921.15 473.02l2.50 2.50l-2.50 2.50l-2.50 -2.50zM928.50 473.02l2.50 2.50l-2.50 2.50l-2.50 -2.50zM935.85 473.02l2.50 2.50l-2.50 2.50l-2.50 -2.50zM943.20 473.02l2.50 2.50l-2.50 2.50l-2.50 -2.50zM950.55 473.02l2.50 2.50l-2.50 2.50l-2.50 -2.50zM957.90 473.02l2.50 2.50l-2.50 2.50l-2.50 -2.50zM917.47 476.69l2.50 2.50l-2.50 2.50l-2.50 -2.50zM924.82 476.69l2.50 2.50l-2.50 2.50l-2.50 -2.50zM932.17 476.69l2.50 2.50l-2.50 2.50l-2.50 -2.50zM939.52 476.69l2.50 2.50l-2.50 2.50l-2.50 -2.50zM946.88 476.69l2.50 2.50l-2.50 2.50l-2.50 -2.50zM954.23 476.69l2.50 2.50l-2.50 2.50l-2.50 -2.50zM913.80 480.36l2.50 2.50l-2.50 2.50l-2.50 -2.50zM921.15 480.36l2.50 2.50l-2.50 2.50l-2.50 -2.50zM928.50 480.36l2.50 2.50l-2.50 2.50l-2.50 -2.50zM935.85 480.36l2.50 2.50l-2.50 2.50l-2.50 -2.50zM943.20 480.36l2.50 2.50l-2.50 2.50l-2.50 -2.50zM950.55 480.36l2.50 2.50l-2.50 2.50l-2.50 -2.50zM957.90 480.36l2.50 2.50l-2.50 2.50l-2.50 -2.50z" fill="#0e0e0e"/><path d="M809.8 499.6 L810.8 497 Q811.8 494.6 813.8 494.6 Q815.8 494.6 816.8 497 L817.8 499.6 Z" fill="#111"/><path d="M843.0 499.6 L844.0 497 Q845.0 494.6 847.0 494.6 Q849.0 494.6 850.0 497 L851.0 499.6 Z" fill="#111"/><path d="M858.0 499.6 L859.0 497 Q860.0 494.6 862.0 494.6 Q864.0 494.6 865.0 497 L866.0 499.6 Z" fill="#111"/><path d="M890.3 499.6 L891.3 497 Q892.3 494.6 894.3 494.6 Q896.3 494.6 897.3 497 L898.3 499.6 Z" fill="#111"/><path d="M906.2 499.6 L907.2 497 Q908.2 494.6 910.2 494.6 Q912.2 494.6 913.2 497 L914.2 499.6 Z" fill="#111"/><path d="M951.1 499.6 L952.1 497 Q953.1 494.6 955.1 494.6 Q957.1 494.6 958.1 497 L959.1 499.6 Z" fill="#111"/><rect x="928" y="329.5" width="34" height="1.2" fill="#8a8c90"/><rect x="948" y="332.2" width="14" height="1.2" fill="#8a8c90"/><rect x="119" y="153.5" width="9" height="1.5" fill="#9a9c9e"/><rect x="268" y="153.5" width="24" height="1.1" fill="#a0a2a4"/><rect x="278" y="156" width="14" height="1.1" fill="#a0a2a4"/><rect x="187" y="364" width="9" height="1.6" fill="#8a8c8e"/><rect x="215" y="364.2" width="25" height="1" fill="#9a9c9e"/><rect x="226" y="366.5" width="14" height="1" fill="#9a9c9e"/><rect x="382" y="158" width="9" height="1.5" fill="#8a8c90"/><rect x="410" y="157.5" width="22" height="1" fill="#9a9ca0"/><rect x="418" y="159.5" width="14" height="1" fill="#9a9ca0"/><ellipse cx="417" cy="147" rx="2.5" ry="0.9" fill="#555"/><ellipse cx="437" cy="147.5" rx="2.5" ry="0.9" fill="#555"/><ellipse cx="456" cy="148" rx="2.5" ry="0.9" fill="#555"/><path d="M532.0 255.9 L526.1 253.8 L520.6 251.6 L515.4 249.3 L510.7 246.9 L506.4 244.3 L502.5 241.8 L499.0 239.1 L496.0 236.4 L493.5 233.6 L491.4 230.8 L489.8 227.9 L488.7 225.0 L488.1 222.1 L488.0 219.2 L488.4 216.3 L489.3 213.4 L490.6 210.5 L492.5 207.6 L494.8 204.8 L497.6 202.1 L500.9 199.4 L504.6 196.8 L508.7 194.2 L513.3 191.8 L518.3 189.4 L523.6 187.2 L529.4 185.0 L535.5 183.0 L541.9 181.1 L548.6 179.3 L555.6 177.7 L562.9 176.2 L570.4 174.9 L578.2 173.7 L586.1 172.7 L594.1 171.8 L602.4 171.1 L610.7 170.6 L619.1 170.2 L627.5 170.0 L636.0 170.0 L644.4 170.2 L652.8 170.5 L661.1 171.0 L669.4 171.6 L677.5 172.4 L685.5 173.4 L693.3 174.5 L700.9 175.8 L708.2 177.3 L715.3 178.8 L722.1 180.6 L728.6 182.4 L734.8 184.4 L740.7 186.5 L746.2 188.7 L751.2 191.1 L755.9 193.5 L760.2 196.0 L764.1 198.6 L767.4 201.3 L770.4 204.0 L772.9 206.8 L774.8 209.6 L776.4 212.5 L777.4 215.4 L777.9 218.3 L778.0 221.2 L777.5 224.1 L776.6 227.0 L775.1 229.9 L773.2 232.7 L770.8 235.5 L768.0 238.3 L764.6 241.0 L760.9 243.6 L756.7 246.1 L752.0 248.5 L747.0 250.9 L741.6 253.1 L683.1 230.4 L686.4 229.5 L689.6 228.6 L692.5 227.7 L695.2 226.7 L697.6 225.7 L699.8 224.6 L701.8 223.5 L703.5 222.3 L704.9 221.2 L706.1 220.0 L707.0 218.8 L707.6 217.6 L707.9 216.3 L708.0 215.1 L707.8 213.9 L707.2 212.7 L706.5 211.5 L705.4 210.3 L704.1 209.1 L702.5 208.0 L700.6 206.8 L698.5 205.7 L696.1 204.7 L693.5 203.7 L690.7 202.7 L687.6 201.8 L684.4 200.9 L680.9 200.1 L677.3 199.4 L673.5 198.7 L669.6 198.0 L665.5 197.5 L661.3 197.0 L657.0 196.6 L652.6 196.2 L648.1 195.9 L643.6 195.7 L639.0 195.6 L634.4 195.5 L629.8 195.5 L625.2 195.6 L620.7 195.8 L616.2 196.0 L611.7 196.3 L607.4 196.7 L603.1 197.2 L598.9 197.7 L594.9 198.3 L591.0 198.9 L587.3 199.6 L583.7 200.4 L580.4 201.3 L577.2 202.1 L574.2 203.1 L571.5 204.1 L569.0 205.1 L566.7 206.2 L564.7 207.3 L562.9 208.4 L561.4 209.5 L560.2 210.7 L559.2 211.9 L558.5 213.1 L558.1 214.4 L558.0 215.6 L558.2 216.8 L558.6 218.0 L559.3 219.2 L560.3 220.4 L561.6 221.6 L563.1 222.8 L564.9 223.9 L567.0 225.0 L569.3 226.1 L571.8 227.1 L574.6 228.1 L577.6 229.0 L580.8 229.9 L584.2 230.7 L587.8 231.5 Z" fill="#a6a7aa"/><path d="M587.8 226.0 L587.8 226.0 L590.2 226.4 L592.6 226.8 L594.9 227.2 L597.3 227.6 L599.7 227.9 L602.1 228.2 L604.5 228.5 L606.9 228.7 L609.2 229.0 L611.6 229.2 L614.0 229.3 L616.4 229.5 L618.8 229.6 L621.2 229.7 L623.5 229.8 L625.9 229.9 L628.3 230.0 L630.7 230.0 L633.1 230.0 L635.5 230.0 L637.8 230.0 L640.2 229.9 L642.6 229.8 L645.0 229.7 L647.4 229.6 L649.7 229.5 L652.1 229.3 L654.5 229.2 L656.9 229.0 L659.3 228.7 L661.7 228.5 L664.0 228.2 L666.4 227.9 L668.8 227.6 L671.2 227.2 L673.6 226.8 L676.0 226.4 L678.3 225.9 L680.7 225.4 L683.1 224.9 L683.1 242 L587.8 242 Z" fill="#fff"/><path d="M532 250.4 L587.8 226 L587.8 231.5 L532 255.9 Z" fill="#b4b5b8"/><path d="M683.1 225 L741.6 247.6 L741.6 253.1 L683.1 230.5 Z" fill="#b4b5b8"/><path d="M532.0 250.4 L526.1 248.3 L520.6 246.1 L515.4 243.8 L510.7 241.4 L506.4 238.8 L502.5 236.3 L499.0 233.6 L496.0 230.9 L493.5 228.1 L491.4 225.3 L489.8 222.4 L488.7 219.5 L488.1 216.6 L488.0 213.7 L488.4 210.8 L489.3 207.9 L490.6 205.0 L492.5 202.1 L494.8 199.3 L497.6 196.6 L500.9 193.9 L504.6 191.3 L508.7 188.7 L513.3 186.3 L518.3 183.9 L523.6 181.7 L529.4 179.5 L535.5 177.5 L541.9 175.6 L548.6 173.8 L555.6 172.2 L562.9 170.7 L570.4 169.4 L578.2 168.2 L586.1 167.2 L594.1 166.3 L602.4 165.6 L610.7 165.1 L619.1 164.7 L627.5 164.5 L636.0 164.5 L644.4 164.7 L652.8 165.0 L661.1 165.5 L669.4 166.1 L677.5 166.9 L685.5 167.9 L693.3 169.0 L700.9 170.3 L708.2 171.8 L715.3 173.3 L722.1 175.1 L728.6 176.9 L734.8 178.9 L740.7 181.0 L746.2 183.2 L751.2 185.6 L755.9 188.0 L760.2 190.5 L764.1 193.1 L767.4 195.8 L770.4 198.5 L772.9 201.3 L774.8 204.1 L776.4 207.0 L777.4 209.9 L777.9 212.8 L778.0 215.7 L777.5 218.6 L776.6 221.5 L775.1 224.4 L773.2 227.2 L770.8 230.0 L768.0 232.8 L764.6 235.5 L760.9 238.1 L756.7 240.6 L752.0 243.0 L747.0 245.4 L741.6 247.6 L683.1 224.9 L686.4 224.0 L689.6 223.1 L692.5 222.2 L695.2 221.2 L697.6 220.2 L699.8 219.1 L701.8 218.0 L703.5 216.8 L704.9 215.7 L706.1 214.5 L707.0 213.3 L707.6 212.1 L707.9 210.8 L708.0 209.6 L707.8 208.4 L707.2 207.2 L706.5 206.0 L705.4 204.8 L704.1 203.6 L702.5 202.5 L700.6 201.3 L698.5 200.2 L696.1 199.2 L693.5 198.2 L690.7 197.2 L687.6 196.3 L684.4 195.4 L680.9 194.6 L677.3 193.9 L673.5 193.2 L669.6 192.5 L665.5 192.0 L661.3 191.5 L657.0 191.1 L652.6 190.7 L648.1 190.4 L643.6 190.2 L639.0 190.1 L634.4 190.0 L629.8 190.0 L625.2 190.1 L620.7 190.3 L616.2 190.5 L611.7 190.8 L607.4 191.2 L603.1 191.7 L598.9 192.2 L594.9 192.8 L591.0 193.4 L587.3 194.1 L583.7 194.9 L580.4 195.8 L577.2 196.6 L574.2 197.6 L571.5 198.6 L569.0 199.6 L566.7 200.7 L564.7 201.8 L562.9 202.9 L561.4 204.0 L560.2 205.2 L559.2 206.4 L558.5 207.6 L558.1 208.9 L558.0 210.1 L558.2 211.3 L558.6 212.5 L559.3 213.7 L560.3 214.9 L561.6 216.1 L563.1 217.3 L564.9 218.4 L567.0 219.5 L569.3 220.6 L571.8 221.6 L574.6 222.6 L577.6 223.5 L580.8 224.4 L584.2 225.2 L587.8 226.0 Z" fill="#d6d7d9"/><rect x="497.3" y="188.3" width="48.7" height="34.4" fill="#222"/><rect x="499.3" y="190.3" width="44.7" height="30.4" fill="#fff"/><rect x="499.3" y="190.3" width="44.7" height="3" fill="#f0902a"/><rect x="500" y="194.5" width="34" height="2.4" fill="#3a8ad8"/><rect x="500" y="198.3" width="34" height="2.4" fill="#3a8ad8"/><rect x="500" y="202.1" width="34" height="2.4" fill="#3a8ad8"/><rect x="500" y="205.9" width="32" height="2.4" fill="#3a8ad8"/><rect x="500" y="209.7" width="32" height="2.4" fill="#3a8ad8"/><rect x="500" y="213.5" width="32" height="2.4" fill="#3a8ad8"/><rect x="500" y="217.3" width="32" height="2.4" fill="#3a8ad8"/><rect x="533" y="194.3" width="10.5" height="11" fill="#7a3ab0"/><rect x="534" y="207" width="8" height="12" fill="#e8eef8"/><path d="M540 144.5 L579 141.5 L581 175.5 L543.5 178.5 Z" fill="#d0d2d5" stroke="#9a9ca0" stroke-width="0.6"/><path d="M543 147 L577 144.3 L578.5 172.5 L545.5 175.3 Z" fill="url(#scrBlue)"/><path d="M551 148 L565 147 L570 152 L570 168 L551 169 Z" fill="#f2f6f2" stroke="#2f8f3f" stroke-width="1.8"/><text x="553.5" y="165" font-size="13" font-weight="bold" fill="#2f8f3f">X</text><path d="M553 178 L563 178 L565 183 L551 183 Z" fill="#c8cacd"/><ellipse cx="558" cy="184" rx="12" ry="4" fill="#d5d7da" stroke="#a9abae" stroke-width="0.5"/><path d="M580 156 L592 152.5 L594 180 L582 181 Z" fill="#dcdee2" stroke="#a0a2a6" stroke-width="0.5"/><rect x="585" y="171" width="8" height="2" fill="#888"/><path d="M623 136.5 L660.5 138 L656 168.5 L622 166.5 Z" fill="#b8bcc4"/><path d="M624.8 138.5 L658.5 139.8 L654.5 166.5 L624 164.8 Z" fill="url(#scrBlue)"/><path d="M622 166.5 L656 168.5 L654 183.5 L605 175 Z" fill="#cdd0d6" stroke="#9a9ea6" stroke-width="0.5"/><path d="M619 168.5 L650 170.5 L646 177.5 L612 173.5 Z" fill="#4a4c52"/><path d="M628 178 L640 179.5 L638 182 L626 180.5 Z" fill="#aeb8d0"/><path d="M605 175 L654 183.5 L653.5 185 L605.5 176.5 Z" fill="#8e9298"/><path d="M677 184 Q671 180 676 174 Q676 166 686 166 Q692 158 702 161 Q712 158 716 167 Q726 168 726 176 Q728 184 718 185 Z" fill="url(#cloudG)" stroke="#c8cacc" stroke-width="0.6"/><rect x="689.9" y="137.9" width="18.8" height="32.7" rx="2.2" fill="#111"/><rect x="691.3" y="141.5" width="16" height="25.5" fill="#f4f4f8"/><rect x="691.3" y="143" width="16" height="4" fill="#b8c0e8"/><rect x="697" y="145" width="9" height="4" fill="#f0e890"/><rect x="691.3" y="159" width="16" height="4.5" fill="#e02020"/><path d="M716 222 Q709 219 713 212 Q712 204 721 204 Q726 197 736 199 Q746 195 752 203 Q764 203 766 210 Q775 212 772 219 Q768 224 758 223 Z" fill="url(#cloudG)" stroke="#c8cacc" stroke-width="0.6"/><rect x="733.4" y="176" width="27.9" height="36" fill="#fafafa" stroke="#c0c0c0" stroke-width="0.6"/><g stroke="#d8dde0" stroke-width="0.4"><line x1="735.5" y1="180.0" x2="759" y2="180.0"/><line x1="735.5" y1="183.0" x2="759" y2="183.0"/><line x1="735.5" y1="186.0" x2="759" y2="186.0"/><line x1="735.5" y1="189.0" x2="759" y2="189.0"/><line x1="735.5" y1="192.0" x2="759" y2="192.0"/><line x1="735.5" y1="195.0" x2="759" y2="195.0"/><line x1="735.5" y1="198.0" x2="759" y2="198.0"/><line x1="735.5" y1="201.0" x2="759" y2="201.0"/><line x1="735.5" y1="204.0" x2="759" y2="204.0"/><line x1="735.5" y1="207.0" x2="759" y2="207.0"/></g><circle cx="750.5" cy="199.2" r="7" fill="#3aa83a"/><path d="M750.5 199.2 L750.5 192.2 A7 7 0 0 0 744 202 Z" fill="#d83030"/><path d="M750.5 199.2 L744 202 A7 7 0 0 0 752 206 Z" fill="#f0b020"/><rect x="722" y="203" width="12" height="12" fill="#f4f4f4" stroke="#c0c0c0" stroke-width="0.5"/><rect x="724" y="207" width="2" height="7" fill="#2a8ad8"/><rect x="726.5" y="205" width="2" height="9" fill="#3aa83a"/><rect x="729" y="206" width="2" height="8" fill="#f0a020"/><rect x="594.1" y="210.2" width="82.5" height="50.8" fill="#5a5c60"/><rect x="595.5" y="211.5" width="79.7" height="48.2" fill="#9ea0a4"/><rect x="597" y="213" width="76.5" height="42" fill="#eef0f8"/><rect x="597" y="213" width="76.5" height="4" fill="#c8d0ec"/><rect x="598" y="218" width="74" height="2" fill="#d8dcf0"/><rect x="600" y="222" width="55" height="14" fill="#f4f0f8"/><rect x="600" y="238" width="55" height="14" fill="#f4f0f8"/><polyline points="600,230 605,228 610,231 615,226 620,229 625,227 630,231 635,228 640,230 645,226 650,229 655,228" fill="none" stroke="#6a7ad8" stroke-width="0.7"/><polyline points="600,246 605,244 610,247 615,243 620,246 625,244 630,247 635,243 640,246 645,244 650,246 655,245" fill="none" stroke="#6a7ad8" stroke-width="0.7"/><rect x="658" y="223" width="12" height="11" fill="#a06a5a"/><rect x="658" y="239" width="12" height="11" fill="#a06a5a"/><rect x="597" y="253" width="8" height="2" fill="#3a4aa8"/><rect x="629.5" y="261" width="13" height="7.5" fill="#b0b2b6"/><rect x="617.9" y="268" width="34" height="5" fill="#3a3b3e"/><rect x="531.8" y="618.3" width="3" height="3.5" fill="#d63c3c"/><rect x="531.8" y="621.8" width="3" height="3" fill="#e8c03a"/><rect x="531.8" y="624.8" width="3" height="3" fill="#4caa55"/><rect x="531.8" y="627.8" width="3" height="5.7" fill="#e8eaec"/><line x1="533.3" y1="633.5" x2="533.3" y2="640.5" stroke="#777" stroke-width="0.6"/><rect x="518.7" y="640.5" width="119.5" height="82" fill="#e2e3e5"/><rect x="518.7" y="640.5" width="10.5" height="82" fill="#b5b7ba"/><rect x="517.5" y="639.2" width="121.5" height="2.2" fill="#a8aaad"/><rect x="529.2" y="659" width="109" height="7.2" fill="#1a1a1a"/><rect x="571" y="659" width="21" height="7.2" fill="#3a3a3a"/><rect x="550.4" y="641" width="0.8" height="81" fill="#bdbfc2"/><rect x="571.4" y="641" width="0.8" height="81" fill="#bdbfc2"/><rect x="590.5" y="641" width="0.8" height="81" fill="#bdbfc2"/><rect x="612.0" y="641" width="0.8" height="81" fill="#bdbfc2"/><rect x="620" y="661.5" width="15" height="2" fill="#7a4a3a"/><rect x="614" y="661.5" width="2" height="2" fill="#c03030"/><rect x="610.6" y="643" width="3.3" height="80" fill="#88898c"/><rect x="574.0" y="677" width="1.2" height="4.5" fill="#222"/><rect x="594.0" y="677" width="1.2" height="4.5" fill="#222"/><rect x="616.0" y="677" width="1.2" height="4.5" fill="#222"/><path d="M490 731.3 L540 721 L756.6 721 L756.6 735 L497 745 Z" fill="#6c6d70"/><path d="M497 745 L756.6 735 L756.6 741.5 L497 751.5 Z" fill="#a2a3a6"/><path d="M490 731.3 L497 745 L497 751.5 L490 737 Z" fill="#b0b1b4"/><path d="M495 738 L520 730 M497 741 L525 732" stroke="#8a8b8e" stroke-width="0.6"/><rect x="525" y="750.0" width="20" height="4.5" fill="#1e1e1e"/><rect x="567" y="748.3" width="16" height="4.5" fill="#1e1e1e"/><rect x="609" y="746.7" width="15" height="4.5" fill="#1e1e1e"/><rect x="654" y="745.0" width="16" height="4.5" fill="#1e1e1e"/><rect x="693" y="743.5" width="15" height="4.5" fill="#1e1e1e"/><rect x="500" y="730" width="18" height="6" fill="#1a1a1a"/><rect x="507" y="729.5" width="13" height="6.5" rx="1.5" fill="#2a9ab2"/><path d="M517.4 710.4 L597 709.5 L595.5 718 L595.5 737.8 L522 738.3 L520 720 Z" fill="#1c1c1d"/><rect x="517.4" y="709.2" width="79.6" height="1.4" fill="#6a6b6e"/><rect x="520" y="726" width="6" height="12" fill="#0c0c0c"/><rect x="511.7" y="679.2" width="57.2" height="31.2" rx="2" fill="url(#teal)"/><rect x="510" y="684" width="6" height="18" rx="2" fill="#2a9ab2"/><path d="M514.9 655.1 L536 655.1 L542.8 662 L542.8 679.2 L514.9 679.2 Z" fill="#33a6bd"/><rect x="514.9" y="655.1" width="4" height="24" fill="#2288a0"/><rect x="536" y="660" width="10" height="10" rx="3" fill="#3aabc2"/><rect x="560" y="688" width="7" height="14" fill="#2590a8"/><rect x="522" y="704" width="5" height="5" fill="#144a58"/><rect x="558" y="704" width="5" height="5" fill="#144a58"/><ellipse cx="559.5" cy="657.5" rx="3.3" ry="3.8" fill="#c8a060"/><path d="M551.5 679 L553 665 Q559.5 660 566 665 L567.5 679 Z" fill="#a84030"/><path d="M552.5 668 L566.5 668 M552 672 L567 672 M551.8 676 L567.2 676" stroke="#3a6a3a" stroke-width="0.8"/><path d="M568.9 685 L586 684.3 L589 690 L598 690.5 L598 704 L590 707.8 L568.9 707.8 Z" fill="#222224"/><rect x="573" y="686" width="10" height="6" fill="#0e0e0e"/><ellipse cx="601" cy="691.9" rx="3.5" ry="2" fill="#111"/><line x1="598" y1="691.9" x2="651" y2="691.9" stroke="#9a9b9e" stroke-width="1"/><rect x="595.4" y="703" width="11.4" height="15.2" fill="#e8e8e8"/><g fill="#222"><rect x="595.40" y="703.00" width="1.42" height="1.9"/><rect x="595.40" y="706.80" width="1.42" height="1.9"/><rect x="595.40" y="710.60" width="1.42" height="1.9"/><rect x="595.40" y="714.40" width="1.42" height="1.9"/><rect x="596.82" y="704.90" width="1.42" height="1.9"/><rect x="596.82" y="708.70" width="1.42" height="1.9"/><rect x="596.82" y="712.50" width="1.42" height="1.9"/><rect x="596.82" y="716.30" width="1.42" height="1.9"/><rect x="598.24" y="703.00" width="1.42" height="1.9"/><rect x="598.24" y="706.80" width="1.42" height="1.9"/><rect x="598.24" y="710.60" width="1.42" height="1.9"/><rect x="598.24" y="714.40" width="1.42" height="1.9"/><rect x="599.66" y="704.90" width="1.42" height="1.9"/><rect x="599.66" y="708.70" width="1.42" height="1.9"/><rect x="599.66" y="712.50" width="1.42" height="1.9"/><rect x="599.66" y="716.30" width="1.42" height="1.9"/><rect x="601.08" y="703.00" width="1.42" height="1.9"/><rect x="601.08" y="706.80" width="1.42" height="1.9"/><rect x="601.08" y="710.60" width="1.42" height="1.9"/><rect x="601.08" y="714.40" width="1.42" height="1.9"/><rect x="602.50" y="704.90" width="1.42" height="1.9"/><rect x="602.50" y="708.70" width="1.42" height="1.9"/><rect x="602.50" y="712.50" width="1.42" height="1.9"/><rect x="602.50" y="716.30" width="1.42" height="1.9"/><rect x="603.92" y="703.00" width="1.42" height="1.9"/><rect x="603.92" y="706.80" width="1.42" height="1.9"/><rect x="603.92" y="710.60" width="1.42" height="1.9"/><rect x="603.92" y="714.40" width="1.42" height="1.9"/><rect x="605.34" y="704.90" width="1.42" height="1.9"/><rect x="605.34" y="708.70" width="1.42" height="1.9"/><rect x="605.34" y="712.50" width="1.42" height="1.9"/><rect x="605.34" y="716.30" width="1.42" height="1.9"/></g><g fill="#333"><rect x="616.00" y="699.00" width="1.6" height="1.9"/><rect x="616.00" y="702.80" width="1.6" height="1.9"/><rect x="616.00" y="706.60" width="1.6" height="1.9"/><rect x="617.60" y="700.90" width="1.6" height="1.9"/><rect x="617.60" y="704.70" width="1.6" height="1.9"/><rect x="619.20" y="699.00" width="1.6" height="1.9"/><rect x="619.20" y="702.80" width="1.6" height="1.9"/><rect x="619.20" y="706.60" width="1.6" height="1.9"/><rect x="620.80" y="700.90" width="1.6" height="1.9"/><rect x="620.80" y="704.70" width="1.6" height="1.9"/><rect x="622.40" y="699.00" width="1.6" height="1.9"/><rect x="622.40" y="702.80" width="1.6" height="1.9"/><rect x="622.40" y="706.60" width="1.6" height="1.9"/><rect x="624.00" y="700.90" width="1.6" height="1.9"/><rect x="624.00" y="704.70" width="1.6" height="1.9"/><rect x="625.60" y="699.00" width="1.6" height="1.9"/><rect x="625.60" y="702.80" width="1.6" height="1.9"/><rect x="625.60" y="706.60" width="1.6" height="1.9"/><rect x="627.20" y="700.90" width="1.6" height="1.9"/><rect x="627.20" y="704.70" width="1.6" height="1.9"/><rect x="628.80" y="699.00" width="1.6" height="1.9"/><rect x="628.80" y="702.80" width="1.6" height="1.9"/><rect x="628.80" y="706.60" width="1.6" height="1.9"/></g><path d="M614.4 684 L622 681 L633 682 L635.1 690 L633 699.7 L616 699.7 Z" fill="#e8e9ec" stroke="#a0a2a6" stroke-width="0.6"/><path d="M617 686 L630 686 M616 691 L633 691 M618 695 L631 695" stroke="#9a9ca0" stroke-width="0.6"/><rect x="612" y="699" width="26" height="1.5" fill="#c8c9cc"/><rect x="611.9" y="706.0" width="3" height="23.0" fill="#1a1a1a"/><rect x="628.2" y="703.0" width="3" height="21.0" fill="#1a1a1a"/><rect x="634.7" y="708.0" width="3" height="19.0" fill="#1a1a1a"/><path d="M603 731 L622 736 M626 728 L646 734" stroke="#333" stroke-width="0.8"/><rect x="640" y="686" width="11" height="36" fill="#c8c9cc"/><path d="M650.5 704 L729.3 704 L729.3 716 L733 716 L730 730 L652 730.2 Z" fill="#1c1c1d"/><rect x="650.5" y="703.5" width="78.8" height="1.3" fill="#6a6b6e"/><path d="M683 712 L723 712 Q727 718 723 724 L683 724 Q679 718 683 712 Z" fill="#0a0a0a" stroke="#333" stroke-width="0.5"/><rect x="729" y="723" width="26" height="5" fill="#1a1a1a"/><path d="M651.1 684 L660 681.2 L681 681.2 L681 704.7 L651.1 704.7 Z" fill="#232325"/><rect x="655" y="681" width="4" height="3" fill="#111"/><rect x="664" y="681" width="4" height="3" fill="#111"/><ellipse cx="648" cy="691.9" rx="3.5" ry="2" fill="#111"/><rect x="675.9" y="676" width="52.7" height="28" rx="1.5" fill="url(#teal)"/><path d="M698 676 L698 660 Q698 654 704 654 L723.6 653.8 L723.6 676 Z" fill="#33a6bd"/><rect x="697" y="658" width="8" height="9" rx="3" fill="#3aabc2"/><rect x="716" y="680" width="12.6" height="14" fill="#2a98b0"/><rect x="689" y="684" width="6" height="10" fill="#2a8ea6"/>
<rect x="94.0" y="301.0" width="223.0" height="32.6" rx="3.5" fill="url(#gbox)"/>
<rect x="421.3" y="301.0" width="333.4" height="32.7" rx="3.5" fill="url(#gbox)"/>
<rect x="258.2" y="363.0" width="222.7" height="32.0" rx="3.5" fill="url(#gbox)"/>
<rect x="258.2" y="401.0" width="222.7" height="32.3" rx="3.5" fill="#64a0d7"/>
<rect x="258.2" y="437.3" width="222.7" height="32.0" rx="3.5" fill="#64a0d7"/>
<rect x="258.2" y="473.1" width="222.7" height="31.9" rx="3.5" fill="#64a0d7"/>
<rect x="261.1" y="568.2" width="223.1" height="32.4" rx="3.5" fill="url(#gbox)"/>
<rect x="261.1" y="603.4" width="223.1" height="31.6" rx="3.5" fill="#48bea2"/>
<rect x="261.1" y="637.6" width="223.1" height="31.6" rx="3.5" fill="#48bea2"/>
<rect x="261.1" y="673.1" width="223.1" height="32.0" rx="3.5" fill="#48bea2"/>
<rect x="770.0" y="508.0" width="223.0" height="32.6" rx="3.5" fill="url(#gbox)"/>
<rect x="770.9" y="608.5" width="223.1" height="32.5" rx="3.5" fill="url(#gbox)"/>
<rect x="770.9" y="645.6" width="223.1" height="32.4" rx="3.5" fill="#64a0d7"/>
<rect x="770.9" y="682.0" width="223.1" height="32.7" rx="3.5" fill="#64a0d7"/>
<rect x="770.9" y="718.0" width="223.1" height="32.6" rx="3.5" fill="#64a0d7"/>
<rect x="243.2" y="745.1" width="185.3" height="37.2" rx="3.5" fill="#84c87a"/>
<polyline points="324.0,317.0 415.0,317.0" fill="none" stroke="#2a72b9" stroke-width="1.7"/>
<path d="M0 0 L-9.5 -5.3 L-6.9 0 L-9.5 5.3 Z" fill="#2a72b9" transform="translate(321.30 317.00) rotate(180)"/>
<path d="M0 0 L-9.5 -5.3 L-6.9 0 L-9.5 5.3 Z" fill="#2a72b9" transform="translate(418.20 317.00) rotate(0)"/>
<polyline points="490.0,381.5 582.1,381.5 582.1,339.0" fill="none" stroke="#2a72b9" stroke-width="1.7"/>
<path d="M0 0 L-9.5 -5.3 L-6.9 0 L-9.5 5.3 Z" fill="#2a72b9" transform="translate(486.80 381.50) rotate(180)"/>
<path d="M0 0 L-9.5 -5.3 L-6.9 0 L-9.5 5.3 Z" fill="#2a72b9" transform="translate(582.10 335.60) rotate(-90)"/>
<polyline points="599.3,339.0 599.3,526.3 761.0,526.3" fill="none" stroke="#2a72b9" stroke-width="1.7"/>
<path d="M0 0 L-9.5 -5.3 L-6.9 0 L-9.5 5.3 Z" fill="#2a72b9" transform="translate(599.30 335.60) rotate(-90)"/>
<path d="M0 0 L-9.5 -5.3 L-6.9 0 L-9.5 5.3 Z" fill="#2a72b9" transform="translate(764.70 526.30) rotate(0)"/>
<polyline points="366.3,516.0 366.3,561.0" fill="none" stroke="#2a72b9" stroke-width="1.7"/>
<path d="M0 0 L-9.5 -5.3 L-6.9 0 L-9.5 5.3 Z" fill="#2a72b9" transform="translate(366.30 513.00) rotate(-90)"/>
<path d="M0 0 L-9.5 -5.3 L-6.9 0 L-9.5 5.3 Z" fill="#2a72b9" transform="translate(366.30 564.20) rotate(90)"/>
<polyline points="882.6,549.0 882.6,602.0" fill="none" stroke="#f15a22" stroke-width="1.7"/>
<path d="M0 0 L-9.5 -5.3 L-6.9 0 L-9.5 5.3 Z" fill="#f15a22" transform="translate(882.60 545.50) rotate(-90)"/>
<path d="M0 0 L-9.5 -5.3 L-6.9 0 L-9.5 5.3 Z" fill="#f15a22" transform="translate(882.60 605.80) rotate(90)"/>
<polyline points="243.5,767.0 138.7,767.0 138.7,340.0" fill="none" stroke="#f15a22" stroke-width="1.7"/>
<path d="M0 0 L-9.5 -5.3 L-6.9 0 L-9.5 5.3 Z" fill="#f15a22" transform="translate(138.70 336.40) rotate(-90)"/>
<polyline points="255.0,585.0 158.8,585.0 158.8,340.0" fill="none" stroke="#f15a22" stroke-width="1.7"/>
<path d="M0 0 L-9.5 -5.3 L-6.9 0 L-9.5 5.3 Z" fill="#f15a22" transform="translate(258.50 585.00) rotate(0)"/>
<path d="M0 0 L-9.5 -5.3 L-6.9 0 L-9.5 5.3 Z" fill="#f15a22" transform="translate(158.80 336.40) rotate(-90)"/>
<polyline points="489.4,585.0 599.1,585.0 599.1,617.0" fill="none" stroke="#f15a22" stroke-width="1.7"/>
<path d="M0 0 L-9.5 -5.3 L-6.9 0 L-9.5 5.3 Z" fill="#f15a22" transform="translate(599.10 621.00) rotate(90)"/>
<polyline points="428.0,767.0 1024.2,767.0 1024.2,527.0 998.0,527.0" fill="none" stroke="#f15a22" stroke-width="1.7"/>
<path d="M0 0 L-9.5 -5.3 L-6.9 0 L-9.5 5.3 Z" fill="#f15a22" transform="translate(994.00 527.00) rotate(180)"/>
<polyline points="858.0,155.5 892.0,155.5" fill="none" stroke="#f15a22" stroke-width="2.0"/>
<path d="M0 0 L-9.5 -5.3 L-7.1 0 L-9.5 5.3 Z" fill="#f15a22" transform="translate(854.70 155.50) rotate(180)"/>
<path d="M0 0 L-9.5 -5.3 L-7.1 0 L-9.5 5.3 Z" fill="#f15a22" transform="translate(895.00 155.50) rotate(0)"/>
<polyline points="858.0,187.2 892.0,187.2" fill="none" stroke="#2a72b9" stroke-width="2.0"/>
<path d="M0 0 L-9.5 -5.3 L-7.1 0 L-9.5 5.3 Z" fill="#2a72b9" transform="translate(854.70 187.20) rotate(180)"/>
<path d="M0 0 L-9.5 -5.3 L-7.1 0 L-9.5 5.3 Z" fill="#2a72b9" transform="translate(895.00 187.20) rotate(0)"/>
<text x="134.11" y="326.30" font-size="18.50" fill="#231f20" textLength="140.85" lengthAdjust="spacingAndGlyphs">Battery Emulator</text>
<text x="548.31" y="325.80" font-size="18.50" fill="#231f20" textLength="78.65" lengthAdjust="spacingAndGlyphs">Host Unit</text>
<text x="362.41" y="284.10" font-size="17.00" fill="#231f20" textLength="119.90" lengthAdjust="spacingAndGlyphs">Control Cabinet</text>
<text x="575.35" y="291.60" font-size="15.00" fill="#231f20" textLength="118.10" lengthAdjust="spacingAndGlyphs">Customer Report</text>
<text x="279.17" y="386.00" font-size="17.50" fill="#231f20" textLength="174.05" lengthAdjust="spacingAndGlyphs">Data Acquisition Unit</text>
<text x="286.77" y="421.90" font-size="17.50" fill="#ffffff" textLength="165.05" lengthAdjust="spacingAndGlyphs">Real-time Controller</text>
<text x="276.38" y="458.40" font-size="17.50" fill="#ffffff" textLength="185.45" lengthAdjust="spacingAndGlyphs">Vibration Monitor Unit</text>
<text x="304.67" y="493.80" font-size="17.50" fill="#ffffff" textLength="129.55" lengthAdjust="spacingAndGlyphs">Power Analyzer</text>
<text x="296.38" y="593.40" font-size="17.50" fill="#231f20" textLength="150.25" lengthAdjust="spacingAndGlyphs">Device Under Test</text>
<text x="338.67" y="627.90" font-size="17.50" fill="#ffffff" textLength="65.25" lengthAdjust="spacingAndGlyphs">Inverter</text>
<text x="336.67" y="662.20" font-size="17.50" fill="#ffffff" textLength="69.65" lengthAdjust="spacingAndGlyphs">E-Motor</text>
<text x="319.67" y="697.80" font-size="17.50" fill="#ffffff" textLength="104.55" lengthAdjust="spacingAndGlyphs">Transmission</text>
<text x="810.64" y="530.00" font-size="18.00" fill="#231f20" textLength="139.60" lengthAdjust="spacingAndGlyphs">Power Drive Unit</text>
<text x="800.44" y="631.90" font-size="18.00" fill="#231f20" textLength="162.90" lengthAdjust="spacingAndGlyphs">Load Dynamometer</text>
<text x="820.64" y="666.90" font-size="18.00" fill="#ffffff" textLength="123.00" lengthAdjust="spacingAndGlyphs">Coupling Shaft</text>
<text x="822.34" y="704.00" font-size="18.00" fill="#ffffff" textLength="119.10" lengthAdjust="spacingAndGlyphs">Torque Sensor</text>
<text x="836.64" y="739.00" font-size="18.00" fill="#ffffff" textLength="91.50" lengthAdjust="spacingAndGlyphs">Drive Shaft</text>
<text x="288.44" y="771.90" font-size="18.00" fill="#ffffff" textLength="93.90" lengthAdjust="spacingAndGlyphs">Power Grid</text>
<circle cx="66.8" cy="833.7" r="2.9" fill="#2b5e9e"/>
<text x="81.50" y="840.0" font-size="18.5" fill="#2b5e9e" textLength="167.40" lengthAdjust="spacingAndGlyphs">Load Dynamometer</text>
<text x="81.50" y="863.5" font-size="14.3" fill="#231f20" stroke="#231f20" stroke-width="0.12" textLength="756.70" lengthAdjust="spacingAndGlyphs">负载动力计是用于测量扭矩、转速或功率的设备,含 AC-Motor、扭力计、试验、联轴器、保护罩、E-Motor 安装治具</text>
<circle cx="66.8" cy="885.8" r="2.9" fill="#2b5e9e"/>
<text x="81.50" y="892.1" font-size="18.5" fill="#2b5e9e" textLength="143.30" lengthAdjust="spacingAndGlyphs">Power Drive Unit</text>
<text x="81.50" y="915.6" font-size="14.3" fill="#231f20" stroke="#231f20" stroke-width="0.12" textLength="503.60" lengthAdjust="spacingAndGlyphs">试验中用于控制动力计 AC-Motor 的高性能动力驱动单元，具备能量回收功能</text>
<circle cx="66.8" cy="937.5" r="2.9" fill="#2b5e9e"/>
<text x="81.50" y="943.8" font-size="18.5" fill="#2b5e9e" textLength="178.30" lengthAdjust="spacingAndGlyphs">Data Acquisition Unit</text>
<text x="81.50" y="967.3" font-size="14.3" fill="#231f20" stroke="#231f20" stroke-width="0.12" textLength="596.70" lengthAdjust="spacingAndGlyphs">记录各种物理量的数据，并提供 DIO / AIO / CAN / CAN FD / EtherCAT 等接口供客户使用</text>
<circle cx="66.8" cy="989.7" r="2.9" fill="#2b5e9e"/>
<text x="81.50" y="996.0" font-size="18.5" fill="#2b5e9e" textLength="80.30" lengthAdjust="spacingAndGlyphs">Host Unit</text>
<text x="81.50" y="1019.5" font-size="14.3" fill="#231f20" stroke="#231f20" stroke-width="0.12" textLength="582.00" lengthAdjust="spacingAndGlyphs">可执行控制软件 E-Propulsion Test Software，拥有系统控制、数据监控、安全报警等功能</text>
<circle cx="66.8" cy="1041.9" r="2.9" fill="#2b5e9e"/>
<text x="81.50" y="1048.2" font-size="18.5" fill="#2b5e9e" textLength="143.10" lengthAdjust="spacingAndGlyphs">Battery Emulator</text>
<text x="81.50" y="1071.7" font-size="14.3" fill="#231f20" stroke="#231f20" stroke-width="0.12" textLength="323.90" lengthAdjust="spacingAndGlyphs">模拟车用电池动态充放电行为，具备能量回收功能</text>
<text x="55.5" y="1117.5" font-size="18.5" fill="#2b5e9e" textLength="113" lengthAdjust="spacingAndGlyphs">载台机构设计</text>
<text x="168.5" y="1116.5" font-size="17.5" fill="#2b5e9e" textLength="314.5" lengthAdjust="spacingAndGlyphs">(PLATFORM MECHANISM DESIGN)</text>
<line x1="55.0" y1="1130.9" x2="160.2" y2="1130.9" stroke="url(#l2_10)" stroke-width="4.5" stroke-linecap="round"/><line x1="172.6" y1="1130.9" x2="174.1" y2="1130.9" stroke="#0aa3df" stroke-width="4.6" stroke-linecap="round"/><circle cx="180.1" cy="1130.9" r="2.2" fill="#0aa3df"/><circle cx="189.5" cy="1130.9" r="2.2" fill="#0aa3df"/><circle cx="198.7" cy="1130.9" r="2.2" fill="#0aa3df"/><circle cx="207.8" cy="1130.9" r="2.2" fill="#0aa3df"/><circle cx="217.2" cy="1130.9" r="2.2" fill="#0aa3df"/><circle cx="226.4" cy="1130.9" r="2.2" fill="#0aa3df"/><circle cx="235.5" cy="1130.9" r="2.2" fill="#0aa3df"/><path d="M244.8 1128.6 A2.3 2.3 0 0 0 244.8 1133.2 L247.1 1133.2 L247.1 1128.6 Z" fill="#0aa3df"/><line x1="259.4" y1="1130.9" x2="302.1" y2="1130.9" stroke="url(#l2_11)" stroke-width="4.5" stroke-linecap="round"/><line x1="316.6" y1="1130.9" x2="317.7" y2="1130.9" stroke="#0aa3df" stroke-width="4.6" stroke-linecap="round"/><circle cx="324.0" cy="1130.9" r="2.2" fill="#12a8d6"/><circle cx="332.9" cy="1130.9" r="2.2" fill="#1aaec8"/><circle cx="341.6" cy="1130.9" r="2.2" fill="#35b5a8"/><path d="M350.1 1128.6 A2.3 2.3 0 0 0 350.1 1133.2 L352.4 1133.2 L352.4 1128.6 Z" fill="#6cc07b"/><line x1="365.6" y1="1130.9" x2="463.1" y2="1130.9" stroke="#0aa3df" stroke-width="4.5" stroke-linecap="round"/><line x1="473.6" y1="1130.9" x2="474.1" y2="1130.9" stroke="#0aa3df" stroke-width="4.6" stroke-linecap="round"/><circle cx="482.0" cy="1130.9" r="2.2" fill="#12a8d6"/><circle cx="491.7" cy="1130.9" r="2.2" fill="#1aaec8"/><circle cx="501.7" cy="1130.9" r="2.2" fill="#35b5a8"/><circle cx="511.3" cy="1130.9" r="2.2" fill="#52ba90"/><path d="M521.4 1128.6 A2.3 2.3 0 0 0 521.4 1133.2 L523.7 1133.2 L523.7 1128.6 Z" fill="#6cc07b"/><line x1="534.2" y1="1130.9" x2="620.1" y2="1130.9" stroke="#0aa3df" stroke-width="4.5" stroke-linecap="round"/><line x1="632.7" y1="1130.9" x2="633.8" y2="1130.9" stroke="#0aa3df" stroke-width="4.6" stroke-linecap="round"/><circle cx="640.3" cy="1130.9" r="2.2" fill="#0aa3df"/><path d="M648.5 1128.6 A2.3 2.3 0 0 0 648.5 1133.2 L650.8 1133.2 L650.8 1128.6 Z" fill="#0aa3df"/><line x1="664.0" y1="1130.9" x2="720.8" y2="1130.9" stroke="#0aa3df" stroke-width="4.5" stroke-linecap="round"/><line x1="736.5" y1="1130.9" x2="737.6" y2="1130.9" stroke="#0aa3df" stroke-width="4.6" stroke-linecap="round"/><circle cx="744.9" cy="1130.9" r="2.2" fill="#0aa3df"/><circle cx="754.7" cy="1130.9" r="2.2" fill="#0aa3df"/><circle cx="764.6" cy="1130.9" r="2.2" fill="#0aa3df"/><circle cx="774.6" cy="1130.9" r="2.2" fill="#0aa3df"/><path d="M784.0 1128.6 A2.3 2.3 0 0 0 784.0 1133.2 L786.3 1133.2 L786.3 1128.6 Z" fill="#0aa3df"/><line x1="798.2" y1="1130.9" x2="835.0" y2="1130.9" stroke="#0aa3df" stroke-width="4.5" stroke-linecap="round"/><line x1="846.2" y1="1130.9" x2="847.5" y2="1130.9" stroke="#0aa3df" stroke-width="4.6" stroke-linecap="round"/><circle cx="854.2" cy="1130.9" r="2.2" fill="#0aa3df"/><circle cx="864.0" cy="1130.9" r="2.2" fill="#0aa3df"/><circle cx="874.0" cy="1130.9" r="2.2" fill="#0aa3df"/><circle cx="883.7" cy="1130.9" r="2.2" fill="#0aa3df"/><path d="M893.8 1128.6 A2.3 2.3 0 0 0 893.8 1133.2 L896.1 1133.2 L896.1 1128.6 Z" fill="#0aa3df"/><line x1="912.0" y1="1130.9" x2="1047.0" y2="1130.9" stroke="url(#l2_12)" stroke-width="4.5" stroke-linecap="round"/>
<text x="55.00" y="1162.5" font-size="14.5" fill="#231f20" stroke="#231f20" stroke-width="0.12" textLength="987.70" lengthAdjust="spacingAndGlyphs">载台具备X轴方向移动功能，并支持单轴最大移动行程600mm，另搭配4组独立被试件固定象脚，以铸铁底座中心为基准点，4组象脚Y轴方向最大移动行</text>
<text x="55.00" y="1188.1" font-size="14.5" fill="#231f20" stroke="#231f20" stroke-width="0.12" textLength="987.70" lengthAdjust="spacingAndGlyphs">程900mm，同时可通过高度调座调整Z轴方向最大移动行程150mm，与适当的转接座与被测动力总成稳固支撑安装在试验台上，确保与实车安装形式一</text>
<text x="55.00" y="1213.7" font-size="14.5" fill="#231f20" stroke="#231f20" stroke-width="0.12">致。同时配有手持控制器，可分别调节两侧动力计水平移动距离。</text>
<rect x="89.8" y="1240.3" width="296.8" height="156" fill="#fff" stroke="#9b9c9f" stroke-width="1.5"/>
<rect x="402.1" y="1240.3" width="296.8" height="156" fill="#fff" stroke="#9b9c9f" stroke-width="1.5"/>
<rect x="717.0" y="1240.3" width="297.0" height="156" fill="#fff" stroke="#9b9c9f" stroke-width="1.5"/>
<path d="M113.4 1331 L147 1321 L363 1350 L363 1357.5 L289 1385.3 L113.4 1338 Z" fill="#4f5456"/><path d="M113.4 1331 L147 1321 L363 1350 L289 1378 Z" fill="#737a7c"/><line x1="117.6" y1="1329.8" x2="298.2" y2="1374.5" stroke="#3a3e40" stroke-width="0.9"/><line x1="121.8" y1="1328.5" x2="307.5" y2="1371.0" stroke="#3a3e40" stroke-width="0.9"/><line x1="126.0" y1="1327.2" x2="316.8" y2="1367.5" stroke="#3a3e40" stroke-width="0.9"/><line x1="130.2" y1="1326.0" x2="326.0" y2="1364.0" stroke="#3a3e40" stroke-width="0.9"/><line x1="134.4" y1="1324.8" x2="335.2" y2="1360.5" stroke="#3a3e40" stroke-width="0.9"/><line x1="138.6" y1="1323.5" x2="344.5" y2="1357.0" stroke="#3a3e40" stroke-width="0.9"/><line x1="142.8" y1="1322.2" x2="353.8" y2="1353.5" stroke="#3a3e40" stroke-width="0.9"/><path d="M131.0 1341.0 l8 2 l0 3 l-8 -2 Z" fill="#c8cacc"/><path d="M157.0 1349.0 l8 2 l0 3 l-8 -2 Z" fill="#c8cacc"/><path d="M188.0 1358.0 l8 2 l0 3 l-8 -2 Z" fill="#c8cacc"/><path d="M218.0 1366.0 l8 2 l0 3 l-8 -2 Z" fill="#c8cacc"/><path d="M250.0 1375.0 l8 2 l0 3 l-8 -2 Z" fill="#c8cacc"/><path d="M282.0 1384.0 l8 2 l0 3 l-8 -2 Z" fill="#c8cacc"/><path d="M192 1352 L250 1326 L252 1328 L195 1354 Z" fill="#8a8090"/><path d="M224 1360 L281 1329 L283 1331 L227 1362 Z" fill="#8a8090"/><path d="M132 1322 L150 1316 L215 1328 L205 1336 Z" fill="#e0a868"/><path d="M140 1325 L205 1334 L206 1336 L141 1327 Z" fill="#c05a48"/><path d="M132 1306 L190 1306 L195 1320 L190 1325 L135 1322 Z" fill="#d2cec8"/><rect x="138" y="1314" width="4" height="9" fill="#9a9cb8"/><rect x="152" y="1316" width="4" height="9" fill="#9a9cb8"/><path d="M131 1278 L145 1272 L175 1276 L175 1306 L133 1306 Z" fill="#d4d6e0"/><path d="M145 1272 L175 1268 L181 1276 L175 1276 Z" fill="#eceef6"/><path d="M131.8 1256 L146 1251.4 L147 1276 L133 1281 Z" fill="#b4b2cc"/><ellipse cx="150" cy="1262" rx="9" ry="7.5" fill="#d0cce2"/><ellipse cx="154" cy="1267" rx="5" ry="4.5" fill="#a8a2c8"/><path d="M165 1284 L185 1282 L198 1290 L200 1318 L180 1320 L165 1312 Z" fill="#928aa2"/><path d="M180 1294 L196 1299 L196 1309 L180 1304 Z" fill="#2a2a2e"/><ellipse cx="196" cy="1304" rx="3.5" ry="5" fill="#3a3a3e"/><ellipse cx="196.5" cy="1304" rx="1.5" ry="2.5" fill="#aaa"/><circle cx="189" cy="1281" r="2.5" fill="#222"/><circle cx="201" cy="1314" r="4" fill="#3a3a3a"/><path d="M267.7 1357 L300 1349 L344 1360 L322 1371 Z" fill="#e0a868"/><path d="M270 1358 L320 1369 L321 1371 L270 1360 Z" fill="#c05a48"/><path d="M290.8 1348.4 L342.5 1346 L342.5 1358 L292 1358 Z" fill="#d2cec8"/><rect x="296" y="1356" width="3.5" height="9" fill="#9a9cb8"/><rect x="309" y="1358" width="3.5" height="9" fill="#9a9cb8"/><path d="M297.6 1318 L318 1313 L330 1316 L330.3 1348.4 L297.6 1348.4 Z" fill="#d8dbea"/><path d="M318 1320 L338 1318 L340.5 1330 L340.5 1349.8 L319.4 1349.8 Z" fill="#b0a8d0"/><circle cx="334" cy="1337" r="5" fill="#e4e2ee" stroke="#9a90b8" stroke-width="0.6"/><path d="M323.5 1304 L337.8 1302 L337.8 1322 L323.5 1324 Z" fill="#9a9ca8"/><g stroke="#6a6c78" stroke-width="0.5"><line x1="325.0" y1="1303" x2="325.0" y2="1323"/><line x1="327.2" y1="1303" x2="327.2" y2="1323"/><line x1="329.4" y1="1303" x2="329.4" y2="1323"/><line x1="331.6" y1="1303" x2="331.6" y2="1323"/><line x1="333.8" y1="1303" x2="333.8" y2="1323"/><line x1="336.0" y1="1303" x2="336.0" y2="1323"/><line x1="323.5" y1="1306.0" x2="337.8" y2="1304.0"/><line x1="323.5" y1="1309.0" x2="337.8" y2="1307.0"/><line x1="323.5" y1="1312.0" x2="337.8" y2="1310.0"/><line x1="323.5" y1="1315.0" x2="337.8" y2="1313.0"/><line x1="323.5" y1="1318.0" x2="337.8" y2="1316.0"/><line x1="323.5" y1="1321.0" x2="337.8" y2="1319.0"/></g><ellipse cx="316" cy="1310" rx="4" ry="4" fill="#d0d2dc"/><path d="M284 1320 L298 1316 L300 1340 L288 1344 L284 1338 Z" fill="#c4c0d0"/><circle cx="280.5" cy="1321" r="5.5" fill="#222"/><circle cx="281" cy="1321" r="2" fill="#777"/><rect x="247.1" y="1303.2" width="3" height="23.5" fill="#2a3a9a"/><path d="M248.6 1323.7 l-4 2.5 l8 0 Z" fill="#2a3a9a"/><ellipse cx="248.6" cy="1302.2" rx="5.5" ry="2" fill="#6ac070"/><rect x="278.4" y="1311.3" width="3" height="15.7" fill="#222"/><path d="M279.9 1324.0 l-4 2.5 l8 0 Z" fill="#222"/><ellipse cx="279.9" cy="1310.3" rx="5.5" ry="2" fill="#6ac070"/><rect x="192.5" y="1333.7" width="3" height="16.8" fill="#2a3a9a"/><path d="M194.0 1347.5 l-4 2.5 l8 0 Z" fill="#2a3a9a"/><ellipse cx="194.0" cy="1332.7" rx="5.5" ry="2" fill="#6ac070"/><rect x="224.3" y="1342.6" width="3" height="16.8" fill="#2a3a9a"/><path d="M225.8 1356.4 l-4 2.5 l8 0 Z" fill="#2a3a9a"/><ellipse cx="225.8" cy="1341.6" rx="5.5" ry="2" fill="#6ac070"/><line x1="270.4" y1="1280.1" x2="270.4" y2="1262" stroke="#2a3aa0" stroke-width="1.8"/><path d="M267.6 1263 L270.4 1258.5 L273.2 1263 Z" fill="#2a3aa0"/><text x="268" y="1257" font-size="6" fill="#2a3aa0">Z</text><line x1="270.4" y1="1280.1" x2="290" y2="1288" stroke="#d02a2a" stroke-width="1.8"/><path d="M289 1285.5 L294 1289 L288.5 1290.5 Z" fill="#d02a2a"/><text x="295" y="1291" font-size="6" fill="#c04040">X</text><line x1="270.4" y1="1280.1" x2="251" y2="1288" stroke="#3aa040" stroke-width="1.8"/><path d="M252 1285.5 L247 1289 L252.5 1290.5 Z" fill="#3aa040"/><text x="237" y="1292" font-size="6" fill="#60a060">Y</text><rect x="417.2" y="1274.3" width="265.8" height="89.4" fill="#46474a"/><rect x="417.2" y="1278.7" width="265.8" height="1.3" fill="#1f1f20"/><rect x="417.2" y="1290.3" width="265.8" height="1.3" fill="#1f1f20"/><rect x="417.2" y="1301.8" width="265.8" height="1.3" fill="#1f1f20"/><rect x="417.2" y="1312.7" width="265.8" height="1.3" fill="#1f1f20"/><rect x="417.2" y="1324.3" width="265.8" height="1.3" fill="#1f1f20"/><rect x="417.2" y="1335.2" width="265.8" height="1.3" fill="#1f1f20"/><rect x="417.2" y="1346.1" width="265.8" height="1.3" fill="#1f1f20"/><rect x="417.2" y="1357.6" width="265.8" height="1.3" fill="#1f1f20"/><circle cx="442.4" cy="1280.0" r="1" fill="#2ac0c0"/><circle cx="442.4" cy="1358.2" r="1" fill="#2ac0c0"/><circle cx="483.7" cy="1280.0" r="1" fill="#2ac0c0"/><circle cx="483.7" cy="1358.2" r="1" fill="#2ac0c0"/><circle cx="616.5" cy="1280.0" r="1" fill="#2ac0c0"/><circle cx="616.5" cy="1358.2" r="1" fill="#2ac0c0"/><circle cx="657.8" cy="1280.0" r="1" fill="#2ac0c0"/><circle cx="657.8" cy="1358.2" r="1" fill="#2ac0c0"/><rect x="524.1" y="1274.3" width="8.2" height="89.4" fill="#6e6a6a"/><rect x="525.6" y="1274.3" width="1.2" height="89.4" fill="#9a9696"/><rect x="529.6" y="1274.3" width="1.2" height="89.4" fill="#9a9696"/><rect x="524.0" y="1274" width="8.4" height="8" fill="#5cc060"/><rect x="524.0" y="1356" width="8.4" height="8" fill="#5cc060"/><rect x="568.6" y="1274.3" width="8.2" height="89.4" fill="#6e6a6a"/><rect x="570.1" y="1274.3" width="1.2" height="89.4" fill="#9a9696"/><rect x="574.1" y="1274.3" width="1.2" height="89.4" fill="#9a9696"/><rect x="568.5" y="1274" width="8.4" height="8" fill="#5cc060"/><rect x="568.5" y="1356" width="8.4" height="8" fill="#5cc060"/><line x1="550" y1="1276" x2="550" y2="1362" stroke="#e0a020" stroke-width="1.3"/><path d="M548 1277.5 L550 1274 L552 1277.5 Z M548 1360.5 L550 1364 L552 1360.5 Z" fill="#e0a020"/><rect x="546.3" y="1283.2" width="1.8" height="4.5" rx="0.6" fill="#2ab040"/><rect x="551.8" y="1283.2" width="1.8" height="4.5" rx="0.6" fill="#2ab040"/><rect x="546.3" y="1294.8" width="1.8" height="4.5" rx="0.6" fill="#2ab040"/><rect x="551.8" y="1294.8" width="1.8" height="4.5" rx="0.6" fill="#2ab040"/><rect x="546.3" y="1306.1" width="1.8" height="4.5" rx="0.6" fill="#2ab040"/><rect x="551.8" y="1306.1" width="1.8" height="4.5" rx="0.6" fill="#2ab040"/><rect x="546.3" y="1317.2" width="1.8" height="4.5" rx="0.6" fill="#2ab040"/><rect x="551.8" y="1317.2" width="1.8" height="4.5" rx="0.6" fill="#2ab040"/><rect x="546.3" y="1328.1" width="1.8" height="4.5" rx="0.6" fill="#2ab040"/><rect x="551.8" y="1328.1" width="1.8" height="4.5" rx="0.6" fill="#2ab040"/><rect x="546.3" y="1339.0" width="1.8" height="4.5" rx="0.6" fill="#2ab040"/><rect x="551.8" y="1339.0" width="1.8" height="4.5" rx="0.6" fill="#2ab040"/><rect x="546.3" y="1349.9" width="1.8" height="4.5" rx="0.6" fill="#2ab040"/><rect x="551.8" y="1349.9" width="1.8" height="4.5" rx="0.6" fill="#2ab040"/><text x="538.5" y="1321" font-size="11" fill="#9acd50">Y</text><rect x="417.9" y="1299" width="74.2" height="39.5" fill="#a87650"/><rect x="420" y="1301.5" width="70" height="1" fill="#d8a070"/><rect x="420" y="1335" width="70" height="1" fill="#d8a070"/><rect x="462" y="1304" width="29" height="1" fill="#c03030"/><rect x="462" y="1331" width="29" height="1" fill="#c03030"/><rect x="415.2" y="1294.3" width="22.5" height="10.2" fill="#3a4ab8"/><g fill="#222"><rect x="437.5" y="1294" width="1.2" height="5"/><rect x="439.8" y="1294" width="1.2" height="5"/><rect x="442.1" y="1294" width="1.2" height="5"/><rect x="444.4" y="1294" width="1.2" height="5"/><rect x="446.7" y="1294" width="1.2" height="5"/><rect x="449.0" y="1294" width="1.2" height="5"/><rect x="451.3" y="1294" width="1.2" height="5"/><rect x="453.6" y="1294" width="1.2" height="5"/><rect x="455.9" y="1294" width="1.2" height="5"/><rect x="458.2" y="1294" width="1.2" height="5"/><rect x="460.5" y="1294" width="1.2" height="5"/><rect x="462.8" y="1294" width="1.2" height="5"/><rect x="465.1" y="1294" width="1.2" height="5"/><rect x="467.4" y="1294" width="1.2" height="5"/><rect x="469.7" y="1294" width="1.2" height="5"/><rect x="472.0" y="1294" width="1.2" height="5"/><rect x="474.3" y="1294" width="1.2" height="5"/><rect x="476.6" y="1294" width="1.2" height="5"/></g><rect x="421" y="1299" width="12" height="3" fill="#8ad0c0"/><rect x="423" y="1333" width="10" height="3" fill="#8ad0c0"/><rect x="440" y="1333" width="10" height="3" fill="#8ad0c0"/><rect x="413.8" y="1305.8" width="49" height="25.9" fill="#a9abba"/><rect x="418" y="1304" width="9" height="29" rx="2" fill="#d4d6de"/><rect x="409" y="1313.5" width="9" height="9" fill="#dcdde2"/><rect x="448" y="1307" width="14" height="23" fill="#bcbeca"/><path d="M463 1307 L475 1309 L490 1312 L490 1325 L475 1328 L463 1330 Z" fill="#7a7672"/><rect x="470" y="1312" width="19" height="12" fill="#2a2a2a"/><circle cx="467" cy="1301" r="2.2" fill="#ddd" stroke="#333" stroke-width="0.8"/><circle cx="467" cy="1336" r="2.2" fill="#ddd" stroke="#333" stroke-width="0.8"/><g transform="translate(1100.2 0) scale(-1 1)"><rect x="417.9" y="1299" width="74.2" height="39.5" fill="#a87650"/><rect x="420" y="1301.5" width="70" height="1" fill="#d8a070"/><rect x="420" y="1335" width="70" height="1" fill="#d8a070"/><rect x="462" y="1304" width="29" height="1" fill="#c03030"/><rect x="462" y="1331" width="29" height="1" fill="#c03030"/><rect x="415.2" y="1294.3" width="22.5" height="10.2" fill="#3a4ab8"/><g fill="#222"><rect x="437.5" y="1294" width="1.2" height="5"/><rect x="439.8" y="1294" width="1.2" height="5"/><rect x="442.1" y="1294" width="1.2" height="5"/><rect x="444.4" y="1294" width="1.2" height="5"/><rect x="446.7" y="1294" width="1.2" height="5"/><rect x="449.0" y="1294" width="1.2" height="5"/><rect x="451.3" y="1294" width="1.2" height="5"/><rect x="453.6" y="1294" width="1.2" height="5"/><rect x="455.9" y="1294" width="1.2" height="5"/><rect x="458.2" y="1294" width="1.2" height="5"/><rect x="460.5" y="1294" width="1.2" height="5"/><rect x="462.8" y="1294" width="1.2" height="5"/><rect x="465.1" y="1294" width="1.2" height="5"/><rect x="467.4" y="1294" width="1.2" height="5"/><rect x="469.7" y="1294" width="1.2" height="5"/><rect x="472.0" y="1294" width="1.2" height="5"/><rect x="474.3" y="1294" width="1.2" height="5"/><rect x="476.6" y="1294" width="1.2" height="5"/></g><rect x="421" y="1299" width="12" height="3" fill="#8ad0c0"/><rect x="423" y="1333" width="10" height="3" fill="#8ad0c0"/><rect x="440" y="1333" width="10" height="3" fill="#8ad0c0"/><rect x="413.8" y="1305.8" width="49" height="25.9" fill="#a9abba"/><rect x="418" y="1304" width="9" height="29" rx="2" fill="#d4d6de"/><rect x="409" y="1313.5" width="9" height="9" fill="#dcdde2"/><rect x="448" y="1307" width="14" height="23" fill="#bcbeca"/><path d="M463 1307 L475 1309 L490 1312 L490 1325 L475 1328 L463 1330 Z" fill="#7a7672"/><rect x="470" y="1312" width="19" height="12" fill="#2a2a2a"/><circle cx="467" cy="1301" r="2.2" fill="#ddd" stroke="#333" stroke-width="0.8"/><circle cx="467" cy="1336" r="2.2" fill="#ddd" stroke="#333" stroke-width="0.8"/></g><rect x="732.6" y="1347.6" width="265.4" height="7.8" fill="#4a4a4c"/><rect x="733" y="1344" width="74" height="3.9" fill="#b85048"/><rect x="923.8" y="1344" width="74" height="3.9" fill="#b85048"/><rect x="748.0" y="1355.2" width="10" height="3" rx="1" fill="#c8c9cc"/><rect x="790.0" y="1355.2" width="10" height="3" rx="1" fill="#c8c9cc"/><rect x="831.0" y="1355.2" width="10" height="3" rx="1" fill="#c8c9cc"/><rect x="881.0" y="1355.2" width="10" height="3" rx="1" fill="#c8c9cc"/><rect x="923.0" y="1355.2" width="10" height="3" rx="1" fill="#c8c9cc"/><rect x="965.0" y="1355.2" width="10" height="3" rx="1" fill="#c8c9cc"/><path d="M730.9 1329.3 L806 1329.3 L806 1336 L796 1336 L794 1343 L730.9 1343 Z" fill="#8f8b85"/><rect x="730.9" y="1336" width="63" height="0.8" fill="#6a6864"/><path d="M741.8 1337.5 h6.5 v7.6 h-6.5 Z M759.2 1337.5 h6.5 v7.6 h-6.5 Z" fill="#7ac8c0"/><rect x="794" y="1316.8" width="12" height="13" fill="#8e8a84"/><rect x="797" y="1318" width="6" height="4" fill="#fff" opacity="0.8"/><rect x="730.3" y="1300.5" width="48.5" height="26.1" rx="1" fill="#9a9cb0"/><rect x="730.3" y="1300.5" width="48.5" height="2.5" fill="#c4c6d4"/><rect x="738" y="1302" width="1" height="24" fill="#7a7c90"/><rect x="767.9" y="1307.6" width="7.6" height="10.3" fill="#111"/><rect x="724.5" y="1307" width="6" height="11" rx="1.5" fill="#d0d2dc"/><circle cx="737" cy="1324" r="2" fill="#333"/><circle cx="769" cy="1324" r="2" fill="#333"/><rect x="729.8" y="1278.7" width="11" height="20.2" fill="#c8cad6"/><rect x="734.5" y="1286" width="6.2" height="10" fill="#6c6e7c"/><rect x="740.7" y="1283.6" width="12.8" height="9.4" fill="#b8bac8"/><rect x="742" y="1281" width="5" height="3" fill="#9a9cac"/><circle cx="782.6" cy="1302.1" r="3.4" fill="#2a2a2c"/><circle cx="782.6" cy="1302.1" r="1.5" fill="#ccc"/><circle cx="782.6" cy="1322.8" r="3.4" fill="#2a2a2c"/><rect x="779" y="1305" width="6" height="15" fill="#3a3a3c"/><rect x="784.2" y="1307" width="21.8" height="8.7" rx="2" fill="#1e1e20"/><rect x="789" y="1306" width="1" height="10.7" fill="#555"/><rect x="793" y="1306" width="1" height="10.7" fill="#555"/><g transform="translate(1730.8 0) scale(-1 1)"><path d="M730.9 1329.3 L806 1329.3 L806 1336 L796 1336 L794 1343 L730.9 1343 Z" fill="#8f8b85"/><rect x="730.9" y="1336" width="63" height="0.8" fill="#6a6864"/><path d="M741.8 1337.5 h6.5 v7.6 h-6.5 Z M759.2 1337.5 h6.5 v7.6 h-6.5 Z" fill="#7ac8c0"/><rect x="794" y="1316.8" width="12" height="13" fill="#8e8a84"/><rect x="797" y="1318" width="6" height="4" fill="#fff" opacity="0.8"/><rect x="730.3" y="1300.5" width="48.5" height="26.1" rx="1" fill="#9a9cb0"/><rect x="730.3" y="1300.5" width="48.5" height="2.5" fill="#c4c6d4"/><rect x="738" y="1302" width="1" height="24" fill="#7a7c90"/><rect x="767.9" y="1307.6" width="7.6" height="10.3" fill="#111"/><rect x="724.5" y="1307" width="6" height="11" rx="1.5" fill="#d0d2dc"/><circle cx="737" cy="1324" r="2" fill="#333"/><circle cx="769" cy="1324" r="2" fill="#333"/><rect x="729.8" y="1278.7" width="11" height="20.2" fill="#c8cad6"/><rect x="734.5" y="1286" width="6.2" height="10" fill="#6c6e7c"/><rect x="740.7" y="1283.6" width="12.8" height="9.4" fill="#b8bac8"/><rect x="742" y="1281" width="5" height="3" fill="#9a9cac"/><circle cx="782.6" cy="1302.1" r="3.4" fill="#2a2a2c"/><circle cx="782.6" cy="1302.1" r="1.5" fill="#ccc"/><circle cx="782.6" cy="1322.8" r="3.4" fill="#2a2a2c"/><rect x="779" y="1305" width="6" height="15" fill="#3a3a3c"/><rect x="784.2" y="1307" width="21.8" height="8.7" rx="2" fill="#1e1e20"/><rect x="789" y="1306" width="1" height="10.7" fill="#555"/><rect x="793" y="1306" width="1" height="10.7" fill="#555"/></g><rect x="838.1" y="1317.6" width="11" height="1.8" fill="#3a9a4a"/><rect x="838.1" y="1325" width="11" height="1.5" fill="#3a9a4a"/><rect x="842.4" y="1319" width="2.4" height="7" fill="#222"/><path d="M842.0 1326.5 L845.2 1326.5 L845.8 1345 L841.4 1345 Z" fill="#2a3a9a"/><rect x="839.6" y="1344.5" width="8" height="3" fill="#888"/><rect x="881.6" y="1317.6" width="11" height="1.8" fill="#3a9a4a"/><rect x="881.6" y="1325" width="11" height="1.5" fill="#3a9a4a"/><rect x="885.9" y="1319" width="2.4" height="7" fill="#222"/><path d="M885.5 1326.5 L888.7 1326.5 L889.3 1345 L884.9 1345 Z" fill="#2a3a9a"/><rect x="883.1" y="1344.5" width="8" height="3" fill="#888"/><line x1="855" y1="1318.2" x2="877" y2="1318.2" stroke="#5a8ad8" stroke-width="0.9"/><line x1="855" y1="1327.5" x2="877" y2="1327.5" stroke="#5a8ad8" stroke-width="0.9"/><text x="861.5" y="1326" font-size="8" fill="#3a6ac8">Z</text><line x1="873" y1="1320" x2="873" y2="1326" stroke="#3a6ac8" stroke-width="0.8"/><path d="M871.5 1321.5 L873 1319 L874.5 1321.5 Z M871.5 1324.5 L873 1327 L874.5 1324.5 Z" fill="#3a6ac8"/><line x1="809" y1="1311.9" x2="830" y2="1311.9" stroke="#e03030" stroke-width="0.9"/><path d="M810 1310 L806.5 1311.9 L810 1313.8 Z M829 1310 L832.5 1311.9 L829 1313.8 Z" fill="#e03030"/><line x1="899" y1="1311.9" x2="920" y2="1311.9" stroke="#e03030" stroke-width="0.9"/><path d="M900 1310 L896.5 1311.9 L900 1313.8 Z M919 1310 L922.5 1311.9 L919 1313.8 Z" fill="#e03030"/><text x="816.8" y="1307.8" font-size="9.2" fill="#e02020">X</text><text x="904.8" y="1307.8" font-size="9.2" fill="#e02020">X</text>
</svg>
</body></html>
